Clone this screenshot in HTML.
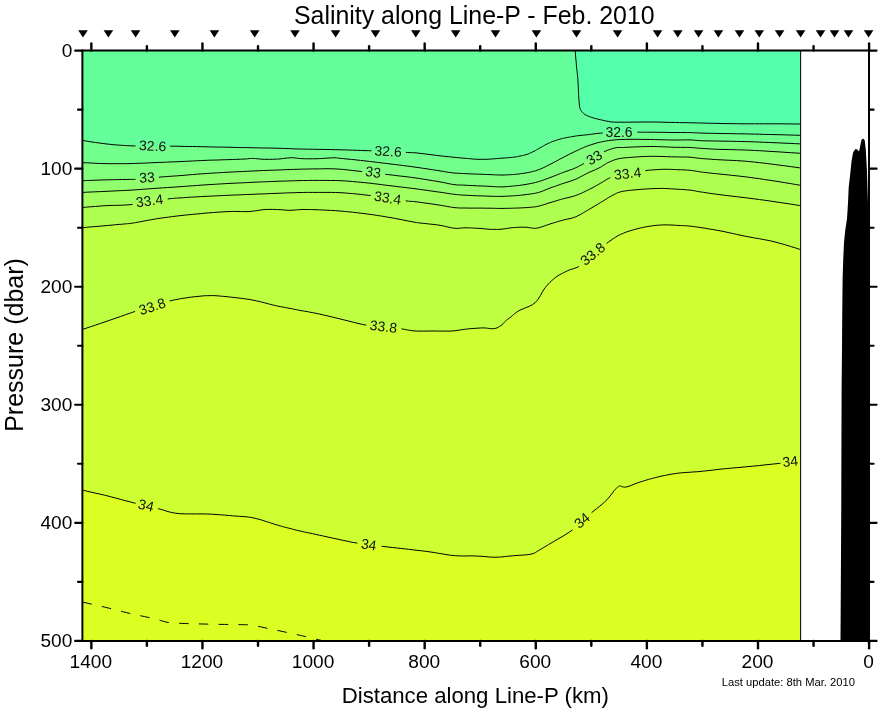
<!DOCTYPE html>
<html lang="en">
<head>
<meta charset="utf-8">
<title>Salinity along Line-P - Feb. 2010</title>
<style>
html,body{margin:0;padding:0;background:#fff;}
body{width:878px;height:708px;overflow:hidden;font-family:"Liberation Sans",sans-serif;}
svg{display:block;will-change:transform;}
</style>
</head>
<body>
<svg width="878" height="708" viewBox="0 0 878 708">
<rect width="878" height="708" fill="#fff"/>
<g shape-rendering="geometricPrecision">
<rect x="82.4" y="50.6" width="718.2" height="590.3" fill="#64ff9b"/>
<path d="M575.2,50.5 L575.3,51.3 L575.4,53.2 L575.6,56.0 L575.9,59.2 L576.2,62.4 L576.4,65.1 L576.6,67.2 L576.8,69.3 L577.1,71.4 L577.3,73.5 L577.5,75.5 L577.7,77.6 L577.9,79.7 L578.0,81.8 L578.1,83.8 L578.2,85.9 L578.3,88.0 L578.4,90.1 L578.5,92.2 L578.6,94.5 L578.7,96.7 L578.9,98.8 L579.0,100.9 L579.2,102.7 L579.3,103.9 L579.4,105.0 L579.5,106.1 L579.7,107.1 L579.9,108.0 L580.2,108.9 L580.5,109.6 L580.9,110.3 L581.2,110.9 L581.7,111.6 L582.2,112.1 L582.7,112.7 L583.4,113.3 L584.1,113.9 L584.9,114.4 L585.7,114.9 L586.7,115.4 L587.7,115.9 L589.4,116.6 L591.4,117.3 L593.6,118.0 L595.9,118.6 L598.1,119.2 L600.3,119.7 L602.4,120.2 L604.5,120.7 L606.5,121.1 L608.6,121.4 L610.7,121.8 L612.8,122.0 L614.8,122.2 L616.8,122.2 L618.8,122.2 L620.8,122.2 L623.0,122.2 L625.3,122.2 L629.0,122.2 L633.0,122.1 L637.3,122.1 L641.7,122.0 L646.1,122.0 L650.4,122.0 L654.6,122.0 L658.7,122.1 L662.9,122.2 L667.1,122.3 L671.2,122.4 L675.4,122.5 L679.6,122.6 L683.9,122.7 L688.1,122.7 L692.4,122.8 L696.5,122.9 L700.5,123.0 L703.9,123.1 L707.1,123.2 L710.2,123.3 L713.4,123.3 L716.6,123.4 L720.0,123.5 L724.0,123.6 L728.1,123.6 L732.3,123.7 L736.6,123.7 L740.9,123.8 L745.2,123.8 L749.9,123.8 L754.7,123.8 L759.6,123.8 L764.4,123.8 L769.2,123.8 L774.0,123.8 L779.1,123.8 L784.9,123.9 L790.7,123.9 L795.7,124.0 L799.3,124.0 L800.6,124.0 L800.6,50.6 Z" fill="#55ffaa"/>
<path d="M82.5,140.4 L83.6,140.6 L86.6,141.1 L90.9,141.8 L95.7,142.5 L100.7,143.2 L105.0,143.8 L109.1,144.2 L113.2,144.7 L117.4,145.0 L121.6,145.3 L125.8,145.6 L130.0,145.8 L134.2,145.9 L138.3,146.0 L142.5,146.0 L146.7,146.0 L150.8,146.0 L155.0,146.0 L159.2,146.0 L163.3,146.1 L167.5,146.1 L171.7,146.2 L175.8,146.2 L180.0,146.3 L184.2,146.4 L188.3,146.5 L192.5,146.5 L196.7,146.6 L200.8,146.7 L205.0,146.8 L209.2,146.9 L213.3,147.0 L217.5,147.1 L221.7,147.1 L225.8,147.2 L230.0,147.3 L234.2,147.4 L238.3,147.5 L242.5,147.6 L246.7,147.6 L250.8,147.7 L255.0,147.8 L259.2,147.9 L263.4,148.0 L267.7,148.0 L271.9,148.1 L276.0,148.2 L280.0,148.3 L283.5,148.4 L286.9,148.5 L290.3,148.7 L293.6,148.8 L296.9,148.9 L300.0,149.0 L302.6,149.1 L305.0,149.1 L307.4,149.2 L309.8,149.2 L312.3,149.2 L315.0,149.3 L318.8,149.4 L322.9,149.4 L327.1,149.5 L331.4,149.6 L335.8,149.7 L340.0,149.8 L344.2,149.9 L348.3,150.0 L352.5,150.2 L356.7,150.3 L360.8,150.5 L365.0,150.6 L369.2,150.7 L373.4,150.9 L377.7,151.0 L381.9,151.2 L386.0,151.3 L390.0,151.5 L393.6,151.7 L397.3,151.9 L401.0,152.1 L404.4,152.3 L407.5,152.5 L410.0,152.6 L411.0,152.6 L411.8,152.7 L412.5,152.7 L413.2,152.7 L414.0,152.7 L415.0,152.8 L418.1,153.1 L421.9,153.6 L426.3,154.1 L431.0,154.7 L435.6,155.3 L440.0,155.8 L444.3,156.3 L448.6,156.7 L453.0,157.2 L457.3,157.6 L461.3,158.0 L465.0,158.3 L467.4,158.5 L469.7,158.7 L471.8,158.9 L473.9,159.1 L475.9,159.2 L478.0,159.3 L480.0,159.3 L482.1,159.3 L484.1,159.3 L486.1,159.3 L488.1,159.2 L490.0,159.1 L491.7,159.0 L493.4,158.9 L495.0,158.7 L496.6,158.6 L498.3,158.4 L500.0,158.3 L502.0,158.1 L504.2,158.0 L506.4,157.8 L508.5,157.7 L510.6,157.5 L512.5,157.3 L513.9,157.1 L515.2,157.0 L516.4,156.8 L517.6,156.6 L518.8,156.3 L520.0,156.1 L521.2,155.8 L522.4,155.6 L523.6,155.3 L524.8,155.0 L525.9,154.7 L527.1,154.3 L528.3,153.9 L529.5,153.4 L530.6,152.9 L531.8,152.3 L532.9,151.8 L534.1,151.2 L535.3,150.6 L536.5,149.9 L537.7,149.2 L538.8,148.6 L540.0,147.9 L541.2,147.2 L542.4,146.5 L543.5,145.9 L544.7,145.2 L545.8,144.6 L547.0,144.0 L548.2,143.4 L549.4,142.9 L550.5,142.4 L551.7,141.9 L552.9,141.4 L554.1,141.0 L555.3,140.6 L556.5,140.2 L557.7,139.8 L558.8,139.5 L560.0,139.1 L561.2,138.8 L562.4,138.5 L563.6,138.2 L564.7,138.0 L565.9,137.7 L567.1,137.5 L568.2,137.3 L569.4,137.1 L570.6,136.9 L571.7,136.7 L572.8,136.5 L574.0,136.3 L575.2,136.1 L576.5,135.9 L578.2,135.7 L580.0,135.5 L581.9,135.3 L583.8,135.1 L585.8,134.9 L587.7,134.7 L589.7,134.5 L591.7,134.2 L593.8,133.9 L595.9,133.6 L598.0,133.4 L600.3,133.2 L603.3,133.0 L606.6,132.9 L609.9,132.7 L613.4,132.7 L616.7,132.6 L620.0,132.5 L623.0,132.4 L626.1,132.4 L629.1,132.3 L632.0,132.3 L634.9,132.2 L637.6,132.2 L639.7,132.2 L641.7,132.2 L643.7,132.2 L645.6,132.2 L647.7,132.2 L650.0,132.2 L653.7,132.2 L657.9,132.3 L662.4,132.3 L666.8,132.4 L671.1,132.5 L675.0,132.5 L677.8,132.5 L680.4,132.5 L682.9,132.5 L685.4,132.5 L687.7,132.6 L690.0,132.6 L691.7,132.7 L693.4,132.7 L694.9,132.8 L696.5,132.9 L698.2,132.9 L700.0,133.0 L702.9,133.1 L706.1,133.2 L709.4,133.3 L712.9,133.3 L716.5,133.4 L720.0,133.5 L724.0,133.6 L728.1,133.6 L732.3,133.7 L736.6,133.8 L740.9,133.8 L745.2,133.9 L749.9,134.0 L754.7,134.1 L759.6,134.2 L764.4,134.4 L769.2,134.5 L774.0,134.6 L779.1,134.7 L784.9,134.9 L790.7,135.0 L795.7,135.2 L799.3,135.3 L800.6,135.3 L800.6,640.9 L82.4,640.9 Z" fill="#73ff8c"/>
<path d="M82.5,162.6 L83.6,162.7 L86.6,162.8 L90.9,163.0 L95.7,163.3 L100.7,163.5 L105.0,163.6 L109.1,163.7 L113.2,163.7 L117.4,163.7 L121.6,163.7 L125.8,163.7 L130.0,163.6 L134.2,163.5 L138.3,163.3 L142.5,163.2 L146.7,163.0 L150.8,162.8 L155.0,162.6 L159.2,162.4 L163.3,162.3 L167.5,162.1 L171.7,161.9 L175.8,161.8 L180.0,161.6 L184.2,161.4 L188.3,161.2 L192.5,161.0 L196.7,160.8 L200.8,160.6 L205.0,160.4 L209.2,160.2 L213.6,160.1 L217.9,160.0 L222.1,159.8 L226.2,159.7 L230.0,159.6 L232.8,159.5 L235.5,159.4 L238.0,159.3 L240.5,159.2 L242.8,159.1 L245.0,159.0 L246.4,158.9 L247.8,158.8 L249.0,158.6 L250.2,158.5 L251.5,158.4 L252.8,158.4 L254.3,158.5 L255.7,158.6 L257.2,158.8 L258.7,158.9 L260.3,159.1 L262.0,159.2 L264.4,159.3 L267.0,159.3 L269.6,159.3 L272.4,159.3 L275.1,159.2 L277.7,159.1 L280.1,158.9 L282.5,158.6 L284.9,158.3 L287.3,158.0 L289.5,157.8 L291.7,157.7 L293.3,157.8 L294.9,157.9 L296.3,158.1 L297.8,158.3 L299.4,158.5 L301.0,158.6 L303.1,158.7 L305.4,158.8 L307.7,158.8 L310.0,158.8 L312.5,158.8 L315.0,158.8 L318.3,158.7 L321.9,158.5 L325.6,158.2 L329.2,158.0 L332.4,157.8 L335.0,157.8 L336.0,157.8 L336.8,157.9 L337.5,158.0 L338.2,158.1 L339.0,158.2 L340.0,158.3 L343.1,158.6 L346.9,159.0 L351.3,159.4 L356.0,159.9 L360.6,160.4 L365.0,160.9 L369.2,161.4 L373.3,161.9 L377.5,162.4 L381.7,162.9 L385.8,163.4 L390.0,163.9 L394.2,164.4 L398.3,164.9 L402.5,165.5 L406.7,166.0 L410.8,166.5 L415.0,167.1 L419.3,167.7 L423.6,168.4 L428.0,169.0 L432.3,169.7 L436.3,170.3 L440.0,170.9 L442.4,171.3 L444.7,171.7 L446.8,172.0 L448.9,172.4 L450.9,172.6 L453.0,172.9 L455.0,173.1 L456.9,173.2 L458.8,173.3 L460.7,173.4 L462.8,173.5 L465.0,173.6 L468.8,173.8 L473.1,174.0 L477.6,174.1 L482.2,174.3 L486.4,174.5 L490.0,174.6 L491.9,174.7 L493.6,174.8 L495.2,174.9 L496.8,174.9 L498.3,175.0 L500.0,175.0 L502.0,175.0 L504.1,175.0 L506.2,174.9 L508.3,174.8 L510.4,174.7 L512.5,174.6 L514.6,174.4 L516.7,174.2 L518.8,174.0 L520.8,173.7 L522.9,173.4 L525.0,173.1 L527.1,172.7 L529.2,172.3 L531.3,171.9 L533.4,171.3 L535.5,170.8 L537.6,170.1 L539.7,169.3 L541.8,168.4 L543.8,167.5 L545.9,166.5 L547.9,165.4 L550.0,164.4 L552.1,163.3 L554.2,162.2 L556.4,161.1 L558.5,159.9 L560.6,158.8 L562.7,157.7 L564.8,156.6 L566.9,155.5 L568.9,154.5 L571.0,153.4 L573.1,152.4 L575.2,151.4 L577.3,150.4 L579.3,149.5 L581.4,148.5 L583.5,147.6 L585.6,146.7 L587.7,145.9 L589.8,145.2 L591.9,144.5 L594.0,143.8 L596.1,143.2 L598.2,142.6 L600.3,142.1 L602.4,141.7 L604.5,141.3 L606.5,140.9 L608.6,140.6 L610.7,140.3 L612.8,140.1 L614.8,139.9 L616.8,139.7 L618.8,139.6 L620.8,139.5 L623.0,139.5 L625.3,139.4 L629.0,139.3 L633.0,139.3 L637.3,139.3 L641.7,139.4 L646.1,139.4 L650.4,139.5 L654.6,139.6 L659.0,139.7 L663.3,139.8 L667.6,139.9 L671.6,140.0 L675.4,140.0 L678.1,140.0 L680.6,140.0 L683.1,139.9 L685.5,139.9 L687.8,139.9 L690.0,139.9 L691.8,140.0 L693.5,140.1 L695.2,140.3 L696.8,140.4 L698.6,140.6 L700.5,140.7 L703.4,140.8 L706.5,140.9 L709.7,140.9 L713.1,141.0 L716.5,141.0 L720.0,141.1 L724.0,141.2 L728.1,141.2 L732.3,141.3 L736.6,141.4 L740.9,141.5 L745.2,141.6 L749.9,141.7 L754.7,141.9 L759.6,142.1 L764.4,142.3 L769.2,142.5 L774.0,142.7 L779.1,142.9 L784.9,143.2 L790.7,143.4 L795.7,143.7 L799.3,143.8 L800.6,143.9 L800.6,640.9 L82.4,640.9 Z" fill="#82ff7d"/>
<path d="M82.5,180.7 L83.6,180.7 L86.6,180.5 L90.9,180.4 L95.7,180.2 L100.7,180.0 L105.0,179.9 L109.2,179.8 L113.7,179.7 L118.2,179.6 L122.5,179.5 L126.5,179.5 L130.0,179.4 L131.7,179.4 L133.2,179.4 L134.5,179.4 L135.9,179.3 L137.3,179.3 L139.0,179.2 L142.0,179.0 L145.4,178.6 L149.0,178.3 L152.7,177.8 L156.4,177.4 L160.0,177.1 L163.3,176.8 L166.6,176.6 L169.9,176.3 L173.2,176.1 L176.5,175.9 L180.0,175.6 L184.0,175.3 L188.1,174.9 L192.3,174.6 L196.6,174.2 L200.8,173.9 L205.0,173.6 L209.2,173.3 L213.3,173.1 L217.5,172.8 L221.7,172.6 L225.8,172.3 L230.0,172.1 L234.2,171.9 L238.3,171.7 L242.5,171.5 L246.7,171.3 L250.8,171.1 L255.0,170.9 L259.2,170.7 L263.4,170.5 L267.7,170.4 L271.9,170.2 L276.0,170.1 L280.0,169.9 L283.5,169.8 L286.9,169.6 L290.3,169.5 L293.6,169.4 L296.9,169.3 L300.0,169.2 L302.6,169.1 L305.1,169.1 L307.5,169.0 L309.9,169.0 L312.4,168.9 L315.0,168.9 L318.2,168.9 L321.4,168.8 L324.7,168.8 L328.1,168.7 L331.6,168.8 L335.0,168.9 L338.7,169.1 L342.4,169.4 L346.2,169.8 L350.1,170.2 L354.0,170.7 L358.0,171.1 L362.8,171.6 L367.8,172.2 L372.9,172.8 L378.0,173.4 L383.0,174.0 L388.0,174.6 L392.6,175.1 L397.1,175.7 L401.7,176.2 L406.1,176.7 L410.6,177.3 L415.0,177.9 L419.3,178.5 L423.6,179.2 L428.0,179.9 L432.2,180.6 L436.2,181.2 L440.0,181.9 L442.8,182.4 L445.4,182.9 L447.9,183.5 L450.4,184.0 L452.7,184.4 L455.0,184.7 L456.7,184.9 L458.3,185.0 L459.8,185.0 L461.4,185.1 L463.1,185.1 L465.0,185.2 L468.6,185.4 L472.9,185.6 L477.5,185.8 L482.1,186.0 L486.4,186.2 L490.0,186.4 L491.9,186.5 L493.6,186.6 L495.2,186.7 L496.8,186.8 L498.3,186.9 L500.0,186.9 L502.0,186.9 L504.1,186.8 L506.2,186.6 L508.3,186.5 L510.4,186.3 L512.5,186.1 L514.6,185.9 L516.7,185.7 L518.8,185.5 L520.8,185.2 L522.9,184.9 L525.0,184.6 L527.1,184.2 L529.2,183.8 L531.3,183.4 L533.4,183.0 L535.5,182.5 L537.6,181.9 L539.7,181.3 L541.8,180.6 L543.8,179.9 L545.9,179.1 L547.9,178.4 L550.0,177.6 L552.1,176.8 L554.2,176.0 L556.3,175.1 L558.5,174.3 L560.6,173.4 L562.7,172.6 L564.8,171.8 L567.0,171.1 L569.1,170.3 L571.2,169.6 L573.3,168.8 L575.2,168.0 L576.8,167.3 L578.3,166.6 L579.7,165.8 L581.1,165.1 L582.5,164.3 L584.0,163.5 L585.6,162.6 L587.3,161.6 L589.0,160.6 L590.6,159.5 L592.3,158.5 L594.0,157.5 L595.7,156.5 L597.3,155.5 L598.9,154.5 L600.6,153.6 L602.3,152.6 L604.0,151.8 L605.8,151.0 L607.7,150.2 L609.6,149.5 L611.5,148.9 L613.4,148.3 L615.3,147.9 L616.9,147.6 L618.5,147.5 L620.0,147.5 L621.6,147.5 L623.4,147.5 L625.3,147.4 L628.8,147.2 L632.8,147.0 L637.1,146.9 L641.6,146.7 L646.1,146.6 L650.4,146.5 L654.6,146.5 L659.0,146.7 L663.3,146.8 L667.6,147.0 L671.6,147.2 L675.4,147.3 L678.1,147.3 L680.6,147.4 L683.1,147.4 L685.5,147.4 L687.8,147.4 L690.0,147.5 L691.8,147.6 L693.5,147.7 L695.2,147.9 L696.8,148.0 L698.6,148.2 L700.5,148.3 L703.4,148.5 L706.5,148.7 L709.7,148.9 L713.1,149.1 L716.5,149.2 L720.0,149.4 L724.0,149.5 L728.1,149.6 L732.3,149.7 L736.6,149.8 L740.9,149.9 L745.2,150.0 L749.9,150.2 L754.7,150.5 L759.6,150.7 L764.4,151.0 L769.2,151.3 L774.0,151.6 L779.1,151.9 L784.9,152.3 L790.7,152.7 L795.7,153.0 L799.3,153.2 L800.6,153.3 L800.6,640.9 L82.4,640.9 Z" fill="#91ff6e"/>
<path d="M82.5,192.4 L83.6,192.4 L86.6,192.2 L90.9,192.0 L95.7,191.8 L100.7,191.6 L105.0,191.4 L109.1,191.2 L113.2,191.0 L117.4,190.8 L121.6,190.6 L125.8,190.4 L130.0,190.2 L134.2,189.9 L138.3,189.6 L142.5,189.3 L146.7,189.0 L150.8,188.7 L155.0,188.4 L159.2,188.1 L163.3,187.8 L167.5,187.5 L171.7,187.3 L175.8,187.0 L180.0,186.7 L184.2,186.4 L188.3,186.1 L192.5,185.8 L196.7,185.5 L200.8,185.2 L205.0,184.9 L209.2,184.6 L213.3,184.4 L217.5,184.1 L221.7,183.9 L225.8,183.6 L230.0,183.4 L234.2,183.2 L238.3,183.0 L242.5,182.8 L246.7,182.6 L250.8,182.4 L255.0,182.2 L259.2,182.0 L263.4,181.8 L267.7,181.7 L271.9,181.5 L276.0,181.3 L280.0,181.2 L283.5,181.1 L286.9,181.0 L290.3,180.9 L293.6,180.8 L296.9,180.7 L300.0,180.6 L302.6,180.5 L305.0,180.5 L307.4,180.5 L309.8,180.4 L312.3,180.4 L315.0,180.4 L318.8,180.4 L322.9,180.4 L327.1,180.4 L331.4,180.5 L335.8,180.5 L340.0,180.7 L344.2,180.9 L348.3,181.2 L352.5,181.5 L356.7,181.9 L360.8,182.3 L365.0,182.7 L369.2,183.1 L373.3,183.6 L377.5,184.1 L381.7,184.7 L385.8,185.2 L390.0,185.7 L394.2,186.2 L398.3,186.7 L402.5,187.2 L406.7,187.7 L410.8,188.2 L415.0,188.7 L419.2,189.3 L423.6,189.9 L427.9,190.5 L432.1,191.1 L436.2,191.7 L440.0,192.2 L442.8,192.6 L445.4,193.0 L447.9,193.4 L450.4,193.8 L452.7,194.1 L455.0,194.4 L456.7,194.6 L458.3,194.7 L459.8,194.9 L461.4,195.0 L463.1,195.1 L465.0,195.2 L468.6,195.4 L472.9,195.6 L477.5,195.8 L482.1,195.9 L486.4,196.1 L490.0,196.2 L491.9,196.3 L493.6,196.3 L495.2,196.4 L496.8,196.4 L498.3,196.4 L500.0,196.4 L502.0,196.4 L504.1,196.3 L506.2,196.2 L508.3,196.1 L510.4,196.0 L512.5,195.9 L514.6,195.7 L516.7,195.6 L518.8,195.4 L520.8,195.2 L522.9,195.0 L525.0,194.7 L527.1,194.4 L529.2,194.2 L531.3,193.9 L533.4,193.6 L535.5,193.2 L537.6,192.7 L539.7,192.1 L541.8,191.4 L543.8,190.6 L545.9,189.7 L547.9,188.9 L550.0,188.1 L552.1,187.3 L554.2,186.6 L556.3,185.8 L558.5,185.1 L560.6,184.3 L562.7,183.6 L564.8,182.9 L566.9,182.3 L569.0,181.6 L571.1,180.9 L573.1,180.2 L575.2,179.4 L577.3,178.5 L579.4,177.4 L581.5,176.3 L583.5,175.2 L585.6,174.1 L587.7,173.1 L589.8,172.1 L592.0,171.1 L594.2,170.2 L596.4,169.2 L598.4,168.3 L600.3,167.3 L601.7,166.5 L602.9,165.7 L604.1,164.9 L605.3,164.2 L606.5,163.4 L607.8,162.7 L609.3,162.0 L610.9,161.3 L612.5,160.6 L614.2,160.0 L616.0,159.4 L617.8,158.9 L620.1,158.4 L622.5,158.1 L625.0,157.8 L627.6,157.6 L630.2,157.4 L632.8,157.2 L635.6,157.0 L638.4,156.8 L641.3,156.6 L644.3,156.5 L647.3,156.4 L650.4,156.3 L654.4,156.3 L658.7,156.4 L663.0,156.5 L667.4,156.7 L671.6,156.8 L675.4,156.9 L678.1,156.9 L680.6,157.0 L683.1,157.0 L685.5,157.0 L687.8,157.1 L690.0,157.2 L691.8,157.4 L693.5,157.5 L695.2,157.8 L696.8,158.0 L698.6,158.2 L700.5,158.4 L703.4,158.7 L706.5,158.9 L709.7,159.1 L713.1,159.4 L716.5,159.6 L720.0,159.8 L724.0,160.0 L728.1,160.2 L732.3,160.4 L736.6,160.6 L740.9,160.9 L745.2,161.2 L749.9,161.6 L754.7,162.1 L759.6,162.7 L764.4,163.2 L769.2,163.8 L774.0,164.4 L779.1,165.1 L784.9,165.8 L790.7,166.6 L795.7,167.3 L799.3,167.8 L800.6,168.0 L800.6,640.9 L82.4,640.9 Z" fill="#a0ff5f"/>
<path d="M82.5,207.5 L83.6,207.4 L86.6,207.1 L90.9,206.8 L95.7,206.4 L100.7,206.0 L105.0,205.7 L109.1,205.5 L113.3,205.4 L117.6,205.3 L121.8,205.2 L126.0,205.0 L130.0,204.7 L133.5,204.3 L136.8,203.8 L140.1,203.2 L143.4,202.6 L146.7,202.0 L150.0,201.5 L153.4,201.0 L156.9,200.5 L160.4,200.0 L163.8,199.5 L167.1,199.0 L170.0,198.7 L171.8,198.5 L173.4,198.4 L174.9,198.2 L176.5,198.1 L178.1,198.0 L180.0,197.9 L183.5,197.7 L187.5,197.4 L191.8,197.1 L196.2,196.9 L200.7,196.6 L205.0,196.4 L209.2,196.2 L213.3,196.0 L217.5,195.8 L221.7,195.6 L225.8,195.4 L230.0,195.2 L234.2,195.0 L238.3,194.9 L242.5,194.7 L246.7,194.5 L250.8,194.4 L255.0,194.2 L259.2,194.0 L263.4,193.9 L267.7,193.7 L271.9,193.5 L276.0,193.4 L280.0,193.2 L283.5,193.1 L286.9,192.9 L290.3,192.8 L293.6,192.7 L296.9,192.6 L300.0,192.5 L302.6,192.5 L305.0,192.4 L307.4,192.4 L309.8,192.4 L312.3,192.4 L315.0,192.4 L318.8,192.4 L322.9,192.4 L327.1,192.4 L331.4,192.4 L335.8,192.5 L340.0,192.7 L344.2,192.9 L348.4,193.3 L352.6,193.6 L356.8,194.0 L360.9,194.5 L365.0,194.9 L368.9,195.4 L372.8,195.9 L376.7,196.4 L380.5,196.9 L384.3,197.5 L388.0,198.0 L391.4,198.5 L394.8,199.1 L398.1,199.6 L401.3,200.2 L404.3,200.6 L407.0,201.0 L408.5,201.2 L409.8,201.3 L410.9,201.4 L412.1,201.4 L413.5,201.5 L415.0,201.7 L418.4,202.1 L422.5,202.7 L427.0,203.3 L431.6,203.9 L436.0,204.6 L440.0,205.2 L442.8,205.7 L445.4,206.1 L447.9,206.6 L450.4,207.0 L452.7,207.4 L455.0,207.7 L456.7,207.8 L458.3,207.9 L459.8,208.0 L461.4,208.0 L463.1,208.0 L465.0,208.0 L468.6,208.1 L472.9,208.1 L477.5,208.1 L482.1,208.1 L486.4,208.2 L490.0,208.2 L491.9,208.2 L493.6,208.3 L495.2,208.3 L496.8,208.4 L498.3,208.4 L500.0,208.4 L502.0,208.4 L504.1,208.4 L506.2,208.3 L508.3,208.3 L510.4,208.3 L512.5,208.2 L514.6,208.1 L516.7,208.1 L518.7,208.0 L520.8,207.9 L522.9,207.8 L525.0,207.7 L527.1,207.6 L529.2,207.4 L531.3,207.2 L533.4,207.0 L535.5,206.8 L537.6,206.4 L539.7,205.9 L541.8,205.3 L543.8,204.7 L545.9,204.0 L547.9,203.3 L550.0,202.7 L552.1,202.1 L554.2,201.4 L556.3,200.8 L558.5,200.1 L560.6,199.5 L562.7,198.9 L564.8,198.4 L566.9,197.9 L569.0,197.4 L571.1,196.9 L573.1,196.3 L575.2,195.7 L577.3,194.9 L579.4,194.1 L581.5,193.2 L583.6,192.2 L585.6,191.2 L587.7,190.2 L589.8,189.1 L592.0,188.0 L594.1,186.9 L596.2,185.7 L598.3,184.5 L600.3,183.4 L602.0,182.4 L603.6,181.4 L605.2,180.4 L606.8,179.4 L608.4,178.5 L610.3,177.6 L612.9,176.6 L615.7,175.6 L618.7,174.8 L621.7,174.0 L624.8,173.2 L627.8,172.6 L630.7,172.1 L633.6,171.7 L636.6,171.4 L639.5,171.1 L642.5,170.9 L645.4,170.6 L648.4,170.3 L651.3,170.0 L654.3,169.8 L657.3,169.6 L660.2,169.4 L662.9,169.3 L665.1,169.3 L667.2,169.3 L669.2,169.3 L671.2,169.4 L673.3,169.5 L675.4,169.6 L677.8,169.7 L680.3,169.8 L682.8,169.8 L685.3,170.0 L687.7,170.1 L690.0,170.3 L691.8,170.5 L693.5,170.8 L695.2,171.0 L696.8,171.3 L698.6,171.6 L700.5,171.9 L703.4,172.3 L706.5,172.6 L709.7,173.0 L713.1,173.4 L716.5,173.7 L720.0,174.1 L724.0,174.5 L728.1,174.9 L732.3,175.4 L736.6,175.8 L740.9,176.3 L745.2,176.8 L749.9,177.4 L754.7,178.1 L759.6,178.7 L764.4,179.5 L769.2,180.2 L774.0,180.9 L779.1,181.7 L784.9,182.7 L790.7,183.6 L795.7,184.5 L799.3,185.1 L800.6,185.3 L800.6,640.9 L82.4,640.9 Z" fill="#afff50"/>
<path d="M82.5,227.7 L83.7,227.6 L86.7,227.3 L91.0,226.9 L95.9,226.5 L100.8,226.1 L105.0,225.7 L108.5,225.4 L112.1,225.1 L115.7,224.7 L119.1,224.4 L122.3,224.2 L125.0,223.9 L126.4,223.8 L127.6,223.7 L128.8,223.6 L129.8,223.5 L130.9,223.3 L132.1,223.2 L133.4,223.0 L134.6,222.8 L135.8,222.6 L137.1,222.3 L138.5,222.1 L140.0,221.8 L142.5,221.3 L145.3,220.8 L148.3,220.2 L151.4,219.7 L154.5,219.1 L157.7,218.6 L161.2,218.1 L164.9,217.6 L168.6,217.1 L172.4,216.6 L176.2,216.1 L180.0,215.7 L184.1,215.2 L188.2,214.8 L192.4,214.4 L196.6,214.0 L200.8,213.6 L205.0,213.2 L209.2,212.8 L213.4,212.5 L217.7,212.2 L221.9,211.9 L226.0,211.7 L230.0,211.5 L233.5,211.4 L236.9,211.5 L240.3,211.6 L243.6,211.6 L246.9,211.6 L250.0,211.5 L252.6,211.2 L255.2,210.9 L257.6,210.5 L260.1,210.1 L262.5,209.7 L265.0,209.5 L267.5,209.4 L270.1,209.4 L272.7,209.4 L275.2,209.5 L277.7,209.6 L280.0,209.7 L281.8,209.8 L283.4,209.9 L285.0,210.1 L286.6,210.2 L288.3,210.3 L290.0,210.3 L292.1,210.2 L294.2,210.1 L296.4,209.9 L298.6,209.7 L300.8,209.6 L303.0,209.5 L305.0,209.5 L306.9,209.5 L308.8,209.5 L310.7,209.6 L312.8,209.6 L315.0,209.7 L318.6,209.8 L322.7,210.0 L326.9,210.2 L331.3,210.4 L335.7,210.7 L340.0,211.0 L344.2,211.4 L348.3,211.8 L352.5,212.2 L356.7,212.7 L360.8,213.2 L365.0,213.7 L369.2,214.3 L373.3,214.8 L377.5,215.5 L381.7,216.1 L385.8,216.8 L390.0,217.5 L394.4,218.3 L399.0,219.2 L403.7,220.1 L408.1,221.0 L411.9,221.7 L415.0,222.3 L416.0,222.5 L416.8,222.6 L417.5,222.7 L418.2,222.8 L419.0,222.9 L420.0,223.0 L422.6,223.3 L425.8,223.6 L429.4,224.0 L433.1,224.4 L436.7,224.8 L440.0,225.3 L442.7,225.8 L445.3,226.4 L447.8,227.0 L450.3,227.6 L452.7,228.0 L455.0,228.3 L456.8,228.4 L458.4,228.3 L460.0,228.2 L461.6,228.0 L463.3,227.9 L465.0,227.8 L467.1,227.8 L469.2,227.9 L471.4,227.9 L473.6,228.1 L475.8,228.2 L478.0,228.3 L480.0,228.4 L482.1,228.6 L484.1,228.8 L486.1,229.0 L488.1,229.2 L490.0,229.3 L491.7,229.4 L493.4,229.4 L495.0,229.4 L496.6,229.4 L498.3,229.4 L500.0,229.3 L502.0,229.1 L504.1,228.9 L506.2,228.5 L508.3,228.2 L510.4,227.9 L512.5,227.7 L514.6,227.5 L516.7,227.4 L518.8,227.3 L520.9,227.2 L523.0,227.2 L525.0,227.2 L526.9,227.3 L528.8,227.6 L530.6,227.9 L532.5,228.1 L534.4,228.3 L536.3,228.2 L538.5,227.8 L540.8,227.2 L543.1,226.4 L545.4,225.6 L547.7,224.8 L550.0,224.0 L552.1,223.3 L554.3,222.7 L556.4,222.1 L558.5,221.4 L560.6,220.8 L562.7,220.2 L564.8,219.7 L566.9,219.2 L569.0,218.8 L571.1,218.3 L573.2,217.7 L575.2,217.0 L577.3,216.1 L579.4,215.0 L581.5,213.9 L583.6,212.6 L585.6,211.4 L587.7,210.2 L589.8,209.0 L591.9,207.7 L594.0,206.5 L596.1,205.2 L598.2,204.0 L600.3,202.7 L602.4,201.4 L604.6,200.1 L606.7,198.7 L608.8,197.4 L610.9,196.2 L612.8,195.2 L614.1,194.5 L615.3,193.9 L616.4,193.3 L617.6,192.8 L618.9,192.3 L620.3,191.9 L622.7,191.3 L625.5,190.9 L628.4,190.5 L631.5,190.2 L634.7,189.9 L637.8,189.6 L641.4,189.3 L645.3,189.0 L649.2,188.8 L653.1,188.6 L656.9,188.5 L660.4,188.4 L663.1,188.4 L665.6,188.5 L668.1,188.6 L670.5,188.8 L672.9,188.9 L675.4,189.1 L677.9,189.2 L680.4,189.4 L682.9,189.5 L685.3,189.7 L687.7,189.9 L690.0,190.1 L691.8,190.3 L693.5,190.6 L695.2,190.9 L696.8,191.3 L698.6,191.6 L700.5,191.9 L703.4,192.3 L706.5,192.8 L709.7,193.3 L713.1,193.8 L716.5,194.2 L720.0,194.7 L724.0,195.2 L728.1,195.7 L732.3,196.2 L736.6,196.7 L740.9,197.2 L745.2,197.7 L749.9,198.3 L754.7,198.9 L759.6,199.6 L764.4,200.2 L769.2,200.9 L774.0,201.6 L779.1,202.4 L784.9,203.2 L790.7,204.1 L795.7,204.9 L799.3,205.5 L800.6,205.7 L800.6,640.9 L82.4,640.9 Z" fill="#beff41"/>
<path d="M82.5,329.5 L83.6,329.1 L86.5,328.1 L90.7,326.7 L95.6,325.1 L100.5,323.4 L105.0,321.9 L109.9,320.2 L115.0,318.4 L120.3,316.6 L125.5,314.7 L130.5,313.0 L135.1,311.4 L138.2,310.3 L141.1,309.3 L143.8,308.3 L146.5,307.3 L149.2,306.4 L152.0,305.5 L154.9,304.6 L157.8,303.8 L160.8,303.0 L163.8,302.3 L166.7,301.6 L169.7,300.9 L172.7,300.3 L175.6,299.6 L178.6,299.1 L181.6,298.5 L184.7,298.1 L187.8,297.6 L191.4,297.1 L195.2,296.7 L199.0,296.3 L202.8,295.9 L206.6,295.7 L210.3,295.6 L213.7,295.6 L217.0,295.8 L220.4,296.1 L223.7,296.4 L227.0,296.7 L230.4,297.1 L234.1,297.5 L237.8,297.9 L241.6,298.4 L245.4,298.9 L249.1,299.4 L252.9,300.1 L256.7,300.9 L260.6,301.8 L264.5,302.8 L268.3,303.8 L272.0,304.8 L275.5,305.6 L278.1,306.2 L280.7,306.7 L283.1,307.1 L285.5,307.6 L287.8,308.0 L290.0,308.4 L291.8,308.7 L293.4,309.1 L295.0,309.4 L296.6,309.7 L298.2,310.1 L300.0,310.4 L302.3,310.8 L304.6,311.2 L307.1,311.6 L309.6,312.1 L312.2,312.6 L315.0,313.1 L318.8,313.9 L322.8,314.8 L327.1,315.8 L331.4,316.8 L335.7,317.9 L340.0,318.9 L344.4,320.0 L348.9,321.1 L353.5,322.3 L358.0,323.4 L362.3,324.4 L366.4,325.2 L369.5,325.7 L372.5,326.0 L375.4,326.3 L378.3,326.5 L381.1,326.7 L384.0,327.0 L387.0,327.3 L389.9,327.6 L392.9,327.9 L395.9,328.2 L398.8,328.6 L401.5,328.9 L403.7,329.2 L405.7,329.6 L407.7,330.0 L409.7,330.3 L411.8,330.7 L414.0,330.9 L416.9,331.1 L420.0,331.1 L423.2,331.1 L426.5,331.1 L429.8,331.0 L433.0,331.0 L436.3,331.0 L439.8,331.1 L443.2,331.1 L446.6,331.1 L449.8,331.1 L452.9,330.9 L455.1,330.7 L457.2,330.4 L459.2,330.1 L461.2,329.8 L463.2,329.5 L465.4,329.2 L468.2,328.9 L471.2,328.6 L474.2,328.4 L477.2,328.2 L480.2,328.0 L483.0,327.9 L485.3,328.0 L487.5,328.2 L489.6,328.5 L491.7,328.7 L493.7,328.7 L495.5,328.4 L497.0,327.9 L498.4,327.2 L499.7,326.4 L501.0,325.5 L502.1,324.7 L503.0,323.9 L503.4,323.5 L503.8,323.1 L504.0,322.7 L504.3,322.3 L504.6,321.9 L505.0,321.5 L505.7,320.9 L506.4,320.3 L507.3,319.6 L508.2,319.0 L509.1,318.3 L510.0,317.6 L511.1,316.7 L512.3,315.7 L513.5,314.6 L514.7,313.6 L516.1,312.5 L517.6,311.5 L520.1,310.1 L523.1,308.8 L526.3,307.5 L529.5,306.2 L532.5,304.6 L535.1,302.7 L537.1,300.5 L538.9,298.0 L540.5,295.4 L542.0,292.6 L543.5,290.0 L545.2,287.7 L546.8,285.8 L548.4,284.0 L550.0,282.3 L551.7,280.7 L553.4,279.2 L555.2,277.7 L557.1,276.3 L559.2,275.0 L561.3,273.9 L563.5,272.7 L565.6,271.7 L567.7,270.7 L569.6,269.9 L571.5,269.3 L573.4,268.7 L575.2,268.1 L577.1,267.4 L579.0,266.4 L581.3,264.8 L583.7,263.0 L586.0,260.9 L588.3,258.7 L590.7,256.5 L593.0,254.5 L595.3,252.6 L597.5,250.7 L599.8,248.8 L602.0,246.9 L604.3,245.1 L606.6,243.4 L608.8,241.8 L611.0,240.2 L613.2,238.7 L615.5,237.2 L617.9,235.8 L620.4,234.5 L623.5,233.2 L626.7,231.9 L630.1,230.8 L633.5,229.8 L637.0,228.8 L640.4,228.0 L643.7,227.3 L647.1,226.6 L650.4,226.1 L653.8,225.6 L657.1,225.3 L660.5,225.0 L663.9,224.9 L667.4,224.9 L671.0,225.0 L674.4,225.2 L677.6,225.4 L680.5,225.5 L682.3,225.6 L683.9,225.7 L685.5,225.7 L686.9,225.8 L688.4,226.0 L690.0,226.1 L691.6,226.3 L693.2,226.5 L694.8,226.7 L696.4,226.9 L698.1,227.2 L700.0,227.5 L702.9,227.9 L706.1,228.4 L709.4,229.0 L712.9,229.5 L716.5,230.2 L720.0,230.8 L724.0,231.6 L728.1,232.5 L732.3,233.4 L736.6,234.4 L740.9,235.3 L745.2,236.2 L749.9,237.1 L754.7,238.0 L759.6,238.8 L764.4,239.7 L769.3,240.6 L774.0,241.7 L779.1,243.1 L784.9,244.7 L790.7,246.5 L795.7,248.0 L799.3,249.2 L800.6,249.6 L800.6,640.9 L82.4,640.9 Z" fill="#cdff32"/>
<path d="M82.5,490.2 L83.6,490.4 L86.6,491.1 L90.9,492.1 L95.9,493.2 L100.9,494.3 L105.4,495.4 L110.2,496.6 L115.4,498.0 L120.7,499.4 L125.8,500.8 L130.6,502.0 L134.7,503.1 L136.9,503.6 L138.8,504.1 L140.6,504.5 L142.4,505.0 L144.1,505.4 L146.0,505.8 L148.0,506.3 L150.0,506.7 L152.0,507.2 L154.0,507.7 L156.1,508.2 L158.3,508.7 L160.9,509.4 L163.6,510.2 L166.3,511.1 L169.2,511.9 L172.2,512.6 L175.4,513.2 L180.2,513.7 L185.4,513.9 L190.9,513.9 L196.5,513.9 L202.0,513.9 L207.2,514.0 L211.6,514.2 L216.0,514.5 L220.3,514.8 L224.5,515.1 L228.6,515.5 L232.6,515.8 L236.1,516.1 L239.5,516.3 L242.8,516.5 L246.1,516.8 L249.4,517.2 L252.9,517.8 L257.1,518.8 L261.6,520.0 L266.1,521.5 L270.5,522.9 L274.7,524.3 L278.4,525.4 L280.6,526.0 L282.6,526.6 L284.5,527.1 L286.4,527.6 L288.2,528.0 L290.0,528.5 L291.7,528.9 L293.3,529.4 L294.9,529.8 L296.5,530.2 L298.2,530.6 L300.0,531.0 L302.3,531.5 L304.7,532.0 L307.2,532.6 L309.9,533.1 L312.6,533.7 L315.4,534.3 L319.3,535.2 L323.6,536.1 L328.1,537.1 L332.6,538.1 L336.9,539.0 L340.9,539.9 L343.9,540.5 L346.8,541.1 L349.5,541.7 L352.2,542.3 L354.9,542.7 L357.4,543.2 L359.4,543.5 L361.4,543.8 L363.3,544.1 L365.2,544.3 L367.1,544.6 L369.0,544.8 L371.0,545.1 L373.0,545.3 L375.0,545.5 L377.1,545.8 L379.3,546.0 L381.6,546.3 L385.0,546.7 L388.7,547.1 L392.5,547.5 L396.5,547.9 L400.4,548.4 L404.4,548.8 L408.6,549.3 L412.8,549.8 L417.1,550.3 L421.4,550.8 L425.6,551.3 L429.9,551.9 L434.2,552.5 L438.5,553.3 L442.8,554.0 L447.0,554.7 L451.2,555.3 L455.3,555.7 L458.8,555.9 L462.3,556.0 L465.6,556.0 L469.0,555.9 L472.3,555.9 L475.7,556.0 L479.1,556.2 L482.6,556.4 L486.1,556.7 L489.5,557.0 L492.8,557.2 L496.0,557.2 L498.4,557.1 L500.7,557.0 L502.9,556.8 L505.2,556.5 L507.5,556.3 L510.0,556.0 L513.7,555.7 L517.9,555.4 L522.3,555.1 L526.5,554.8 L530.2,554.3 L533.1,553.6 L534.2,553.2 L535.0,552.8 L535.7,552.4 L536.4,551.9 L537.2,551.4 L538.1,550.8 L539.9,549.8 L541.8,548.6 L543.9,547.4 L546.2,546.0 L548.5,544.6 L550.9,543.2 L554.3,541.2 L558.0,539.0 L562.0,536.7 L565.8,534.4 L569.4,532.1 L572.5,529.9 L574.4,528.4 L576.0,527.0 L577.5,525.6 L579.0,524.1 L580.5,522.7 L582.0,521.3 L583.6,519.9 L585.1,518.5 L586.6,517.1 L588.2,515.7 L589.9,514.2 L591.6,512.7 L594.0,510.7 L596.6,508.6 L599.3,506.5 L602.0,504.3 L604.5,502.1 L606.8,499.9 L608.5,498.0 L610.1,496.0 L611.7,494.0 L613.1,492.1 L614.4,490.4 L615.7,489.0 L616.4,488.3 L617.0,487.7 L617.6,487.1 L618.2,486.6 L618.8,486.2 L619.5,486.0 L620.3,486.0 L621.0,486.2 L621.8,486.5 L622.7,486.9 L623.6,487.1 L624.6,487.2 L626.7,486.9 L629.1,486.2 L631.7,485.2 L634.4,484.1 L637.2,483.0 L639.9,482.1 L642.8,481.2 L645.7,480.3 L648.6,479.4 L651.6,478.6 L654.6,477.8 L657.7,477.0 L661.0,476.2 L664.3,475.5 L667.7,474.9 L671.1,474.2 L674.5,473.7 L678.0,473.2 L681.6,472.8 L685.3,472.5 L689.0,472.3 L692.7,472.0 L696.4,471.8 L700.0,471.5 L703.4,471.1 L706.7,470.8 L710.1,470.4 L713.4,470.0 L716.7,469.6 L720.0,469.2 L723.2,468.9 L726.4,468.6 L729.5,468.3 L732.8,468.0 L736.2,467.7 L739.9,467.4 L745.9,466.8 L752.6,466.2 L759.7,465.5 L766.9,464.7 L773.6,464.0 L779.7,463.4 L784.1,462.9 L788.7,462.4 L793.2,461.9 L797.0,461.4 L799.6,461.1 L800.6,461.0 L800.6,640.9 L82.4,640.9 Z" fill="#dcff23"/>
</g>
<g fill="none" stroke="#000" stroke-width="1" stroke-linejoin="round" stroke-linecap="butt">
<path d="M575.2,50.5 L575.3,51.3 L575.4,53.2 L575.6,56.0 L575.9,59.2 L576.2,62.4 L576.4,65.1 L576.6,67.2 L576.8,69.3 L577.1,71.4 L577.3,73.5 L577.5,75.5 L577.7,77.6 L577.9,79.7 L578.0,81.8 L578.1,83.8 L578.2,85.9 L578.3,88.0 L578.4,90.1 L578.5,92.2 L578.6,94.5 L578.7,96.7 L578.9,98.8 L579.0,100.9 L579.2,102.7 L579.3,103.9 L579.4,105.0 L579.5,106.1 L579.7,107.1 L579.9,108.0 L580.2,108.9 L580.5,109.6 L580.9,110.3 L581.2,110.9 L581.7,111.6 L582.2,112.1 L582.7,112.7 L583.4,113.3 L584.1,113.9 L584.9,114.4 L585.7,114.9 L586.7,115.4 L587.7,115.9 L589.4,116.6 L591.4,117.3 L593.6,118.0 L595.9,118.6 L598.1,119.2 L600.3,119.7 L602.4,120.2 L604.5,120.7 L606.5,121.1 L608.6,121.4 L610.7,121.8 L612.8,122.0 L614.8,122.2 L616.8,122.2 L618.8,122.2 L620.8,122.2 L623.0,122.2 L625.3,122.2 L629.0,122.2 L633.0,122.1 L637.3,122.1 L641.7,122.0 L646.1,122.0 L650.4,122.0 L654.6,122.0 L658.7,122.1 L662.9,122.2 L667.1,122.3 L671.2,122.4 L675.4,122.5 L679.6,122.6 L683.9,122.7 L688.1,122.7 L692.4,122.8 L696.5,122.9 L700.5,123.0 L703.9,123.1 L707.1,123.2 L710.2,123.3 L713.4,123.3 L716.6,123.4 L720.0,123.5 L724.0,123.6 L728.1,123.6 L732.3,123.7 L736.6,123.7 L740.9,123.8 L745.2,123.8 L749.9,123.8 L754.7,123.8 L759.6,123.8 L764.4,123.8 L769.2,123.8 L774.0,123.8 L779.1,123.8 L784.9,123.9 L790.7,123.9 L795.7,124.0 L799.3,124.0 L800.6,124.0"/>
<path d="M82.5,140.4 L83.6,140.6 L86.6,141.1 L90.9,141.8 L95.7,142.5 L100.7,143.2 L105.0,143.8 L109.1,144.2 L113.2,144.7 L117.4,145.0 L121.6,145.3 L125.8,145.6 L130.0,145.8 L134.2,145.9 L135.6,146.0"/>
<path d="M170.0,146.2 L171.7,146.2 L175.8,146.2 L180.0,146.3 L184.2,146.4 L188.3,146.5 L192.5,146.5 L196.7,146.6 L200.8,146.7 L205.0,146.8 L209.2,146.9 L213.3,147.0 L217.5,147.1 L221.7,147.1 L225.8,147.2 L230.0,147.3 L234.2,147.4 L238.3,147.5 L242.5,147.6 L246.7,147.6 L250.8,147.7 L255.0,147.8 L259.2,147.9 L263.4,148.0 L267.7,148.0 L271.9,148.1 L276.0,148.2 L280.0,148.3 L283.5,148.4 L286.9,148.5 L290.3,148.7 L293.6,148.8 L296.9,148.9 L300.0,149.0 L302.6,149.1 L305.0,149.1 L307.4,149.2 L309.8,149.2 L312.3,149.2 L315.0,149.3 L318.8,149.4 L322.9,149.4 L327.1,149.5 L331.4,149.6 L335.8,149.7 L340.0,149.8 L344.2,149.9 L348.3,150.0 L352.5,150.2 L356.7,150.3 L360.8,150.5 L365.0,150.6 L369.2,150.7 L371.5,150.8"/>
<path d="M405.8,152.4 L407.5,152.5 L410.0,152.6 L411.0,152.6 L411.8,152.7 L412.5,152.7 L413.2,152.7 L414.0,152.7 L415.0,152.8 L418.1,153.1 L421.9,153.6 L426.3,154.1 L431.0,154.7 L435.6,155.3 L440.0,155.8 L444.3,156.3 L448.6,156.7 L453.0,157.2 L457.3,157.6 L461.3,158.0 L465.0,158.3 L467.4,158.5 L469.7,158.7 L471.8,158.9 L473.9,159.1 L475.9,159.2 L478.0,159.3 L480.0,159.3 L482.1,159.3 L484.1,159.3 L486.1,159.3 L488.1,159.2 L490.0,159.1 L491.7,159.0 L493.4,158.9 L495.0,158.7 L496.6,158.6 L498.3,158.4 L500.0,158.3 L502.0,158.1 L504.2,158.0 L506.4,157.8 L508.5,157.7 L510.6,157.5 L512.5,157.3 L513.9,157.1 L515.2,157.0 L516.4,156.8 L517.6,156.6 L518.8,156.3 L520.0,156.1 L521.2,155.8 L522.4,155.6 L523.6,155.3 L524.8,155.0 L525.9,154.7 L527.1,154.3 L528.3,153.9 L529.5,153.4 L530.6,152.9 L531.8,152.3 L532.9,151.8 L534.1,151.2 L535.3,150.6 L536.5,149.9 L537.7,149.2 L538.8,148.6 L540.0,147.9 L541.2,147.2 L542.4,146.5 L543.5,145.9 L544.7,145.2 L545.8,144.6 L547.0,144.0 L548.2,143.4 L549.4,142.9 L550.5,142.4 L551.7,141.9 L552.9,141.4 L554.1,141.0 L555.3,140.6 L556.5,140.2 L557.7,139.8 L558.8,139.5 L560.0,139.1 L561.2,138.8 L562.4,138.5 L563.6,138.2 L564.7,138.0 L565.9,137.7 L567.1,137.5 L568.2,137.3 L569.4,137.1 L570.6,136.9 L571.7,136.7 L572.8,136.5 L574.0,136.3 L575.2,136.1 L576.5,135.9 L578.2,135.7 L580.0,135.5 L581.9,135.3 L583.8,135.1 L585.8,134.9 L587.7,134.7 L589.7,134.5 L591.7,134.2 L593.8,133.9 L595.9,133.6 L598.0,133.4 L600.3,133.2 L602.8,133.0"/>
<path d="M637.3,132.2 L637.6,132.2 L639.7,132.2 L641.7,132.2 L643.7,132.2 L645.6,132.2 L647.7,132.2 L650.0,132.2 L653.7,132.2 L657.9,132.3 L662.4,132.3 L666.8,132.4 L671.1,132.5 L675.0,132.5 L677.8,132.5 L680.4,132.5 L682.9,132.5 L685.4,132.5 L687.7,132.6 L690.0,132.6 L691.7,132.7 L693.4,132.7 L694.9,132.8 L696.5,132.9 L698.2,132.9 L700.0,133.0 L702.9,133.1 L706.1,133.2 L709.4,133.3 L712.9,133.3 L716.5,133.4 L720.0,133.5 L724.0,133.6 L728.1,133.6 L732.3,133.7 L736.6,133.8 L740.9,133.8 L745.2,133.9 L749.9,134.0 L754.7,134.1 L759.6,134.2 L764.4,134.4 L769.2,134.5 L774.0,134.6 L779.1,134.7 L784.9,134.9 L790.7,135.0 L795.7,135.2 L799.3,135.3 L800.6,135.3"/>
<path d="M82.5,162.6 L83.6,162.7 L86.6,162.8 L90.9,163.0 L95.7,163.3 L100.7,163.5 L105.0,163.6 L109.1,163.7 L113.2,163.7 L117.4,163.7 L121.6,163.7 L125.8,163.7 L130.0,163.6 L134.2,163.5 L138.3,163.3 L142.5,163.2 L146.7,163.0 L150.8,162.8 L155.0,162.6 L159.2,162.4 L163.3,162.3 L167.5,162.1 L171.7,161.9 L175.8,161.8 L180.0,161.6 L184.2,161.4 L188.3,161.2 L192.5,161.0 L196.7,160.8 L200.8,160.6 L205.0,160.4 L209.2,160.2 L213.6,160.1 L217.9,160.0 L222.1,159.8 L226.2,159.7 L230.0,159.6 L232.8,159.5 L235.5,159.4 L238.0,159.3 L240.5,159.2 L242.8,159.1 L245.0,159.0 L246.4,158.9 L247.8,158.8 L249.0,158.6 L250.2,158.5 L251.5,158.4 L252.8,158.4 L254.3,158.5 L255.7,158.6 L257.2,158.8 L258.7,158.9 L260.3,159.1 L262.0,159.2 L264.4,159.3 L267.0,159.3 L269.6,159.3 L272.4,159.3 L275.1,159.2 L277.7,159.1 L280.1,158.9 L282.5,158.6 L284.9,158.3 L287.3,158.0 L289.5,157.8 L291.7,157.7 L293.3,157.8 L294.9,157.9 L296.3,158.1 L297.8,158.3 L299.4,158.5 L301.0,158.6 L303.1,158.7 L305.4,158.8 L307.7,158.8 L310.0,158.8 L312.5,158.8 L315.0,158.8 L318.3,158.7 L321.9,158.5 L325.6,158.2 L329.2,158.0 L332.4,157.8 L335.0,157.8 L336.0,157.8 L336.8,157.9 L337.5,158.0 L338.2,158.1 L339.0,158.2 L340.0,158.3 L343.1,158.6 L346.9,159.0 L351.3,159.4 L356.0,159.9 L360.6,160.4 L365.0,160.9 L369.2,161.4 L373.3,161.9 L377.5,162.4 L381.7,162.9 L385.8,163.4 L390.0,163.9 L394.2,164.4 L398.3,164.9 L402.5,165.5 L406.7,166.0 L410.8,166.5 L415.0,167.1 L419.3,167.7 L423.6,168.4 L428.0,169.0 L432.3,169.7 L436.3,170.3 L440.0,170.9 L442.4,171.3 L444.7,171.7 L446.8,172.0 L448.9,172.4 L450.9,172.6 L453.0,172.9 L455.0,173.1 L456.9,173.2 L458.8,173.3 L460.7,173.4 L462.8,173.5 L465.0,173.6 L468.8,173.8 L473.1,174.0 L477.6,174.1 L482.2,174.3 L486.4,174.5 L490.0,174.6 L491.9,174.7 L493.6,174.8 L495.2,174.9 L496.8,174.9 L498.3,175.0 L500.0,175.0 L502.0,175.0 L504.1,175.0 L506.2,174.9 L508.3,174.8 L510.4,174.7 L512.5,174.6 L514.6,174.4 L516.7,174.2 L518.8,174.0 L520.8,173.7 L522.9,173.4 L525.0,173.1 L527.1,172.7 L529.2,172.3 L531.3,171.9 L533.4,171.3 L535.5,170.8 L537.6,170.1 L539.7,169.3 L541.8,168.4 L543.8,167.5 L545.9,166.5 L547.9,165.4 L550.0,164.4 L552.1,163.3 L554.2,162.2 L556.4,161.1 L558.5,159.9 L560.6,158.8 L562.7,157.7 L564.8,156.6 L566.9,155.5 L568.9,154.5 L571.0,153.4 L573.1,152.4 L575.2,151.4 L577.3,150.4 L579.3,149.5 L581.4,148.5 L583.5,147.6 L585.6,146.7 L587.7,145.9 L589.8,145.2 L591.9,144.5 L594.0,143.8 L596.1,143.2 L598.2,142.6 L600.3,142.1 L602.4,141.7 L604.5,141.3 L606.5,140.9 L608.6,140.6 L610.7,140.3 L612.8,140.1 L614.8,139.9 L616.8,139.7 L618.8,139.6 L620.8,139.5 L623.0,139.5 L625.3,139.4 L629.0,139.3 L633.0,139.3 L637.3,139.3 L641.7,139.4 L646.1,139.4 L650.4,139.5 L654.6,139.6 L659.0,139.7 L663.3,139.8 L667.6,139.9 L671.6,140.0 L675.4,140.0 L678.1,140.0 L680.6,140.0 L683.1,139.9 L685.5,139.9 L687.8,139.9 L690.0,139.9 L691.8,140.0 L693.5,140.1 L695.2,140.3 L696.8,140.4 L698.6,140.6 L700.5,140.7 L703.4,140.8 L706.5,140.9 L709.7,140.9 L713.1,141.0 L716.5,141.0 L720.0,141.1 L724.0,141.2 L728.1,141.2 L732.3,141.3 L736.6,141.4 L740.9,141.5 L745.2,141.6 L749.9,141.7 L754.7,141.9 L759.6,142.1 L764.4,142.3 L769.2,142.5 L774.0,142.7 L779.1,142.9 L784.9,143.2 L790.7,143.4 L795.7,143.7 L799.3,143.8 L800.6,143.9"/>
<path d="M82.5,180.7 L83.6,180.7 L86.6,180.5 L90.9,180.4 L95.7,180.2 L100.7,180.0 L105.0,179.9 L109.2,179.8 L113.7,179.7 L118.2,179.6 L122.5,179.5 L126.5,179.5 L130.0,179.4 L131.7,179.4 L133.2,179.4 L134.5,179.4 L135.6,179.3"/>
<path d="M158.9,177.2 L160.0,177.1 L163.3,176.8 L166.6,176.6 L169.9,176.3 L173.2,176.1 L176.5,175.9 L180.0,175.6 L184.0,175.3 L188.1,174.9 L192.3,174.6 L196.6,174.2 L200.8,173.9 L205.0,173.6 L209.2,173.3 L213.3,173.1 L217.5,172.8 L221.7,172.6 L225.8,172.3 L230.0,172.1 L234.2,171.9 L238.3,171.7 L242.5,171.5 L246.7,171.3 L250.8,171.1 L255.0,170.9 L259.2,170.7 L263.4,170.5 L267.7,170.4 L271.9,170.2 L276.0,170.1 L280.0,169.9 L283.5,169.8 L286.9,169.6 L290.3,169.5 L293.6,169.4 L296.9,169.3 L300.0,169.2 L302.6,169.1 L305.1,169.1 L307.5,169.0 L309.9,169.0 L312.4,168.9 L315.0,168.9 L318.2,168.9 L321.4,168.8 L324.7,168.8 L328.1,168.7 L331.6,168.8 L335.0,168.9 L338.7,169.1 L342.4,169.4 L346.2,169.8 L350.1,170.2 L354.0,170.7 L358.0,171.1 L362.2,171.6"/>
<path d="M385.2,174.3 L388.0,174.6 L392.6,175.1 L397.1,175.7 L401.7,176.2 L406.1,176.7 L410.6,177.3 L415.0,177.9 L419.3,178.5 L423.6,179.2 L428.0,179.9 L432.2,180.6 L436.2,181.2 L440.0,181.9 L442.8,182.4 L445.4,182.9 L447.9,183.5 L450.4,184.0 L452.7,184.4 L455.0,184.7 L456.7,184.9 L458.3,185.0 L459.8,185.0 L461.4,185.1 L463.1,185.1 L465.0,185.2 L468.6,185.4 L472.9,185.6 L477.5,185.8 L482.1,186.0 L486.4,186.2 L490.0,186.4 L491.9,186.5 L493.6,186.6 L495.2,186.7 L496.8,186.8 L498.3,186.9 L500.0,186.9 L502.0,186.9 L504.1,186.8 L506.2,186.6 L508.3,186.5 L510.4,186.3 L512.5,186.1 L514.6,185.9 L516.7,185.7 L518.8,185.5 L520.8,185.2 L522.9,184.9 L525.0,184.6 L527.1,184.2 L529.2,183.8 L531.3,183.4 L533.4,183.0 L535.5,182.5 L537.6,181.9 L539.7,181.3 L541.8,180.6 L543.8,179.9 L545.9,179.1 L547.9,178.4 L550.0,177.6 L552.1,176.8 L554.2,176.0 L556.3,175.1 L558.5,174.3 L560.6,173.4 L562.7,172.6 L564.8,171.8 L567.0,171.1 L569.1,170.3 L571.2,169.6 L573.3,168.8 L575.2,168.0 L576.8,167.3 L578.3,166.6 L579.7,165.8 L581.1,165.1 L582.5,164.3 L584.0,163.5 L584.0,163.5"/>
<path d="M604.0,151.8 L604.0,151.8 L605.8,151.0 L607.7,150.2 L609.6,149.5 L611.5,148.9 L613.4,148.3 L615.3,147.9 L616.9,147.6 L618.5,147.5 L620.0,147.5 L621.6,147.5 L623.4,147.5 L625.3,147.4 L628.8,147.2 L632.8,147.0 L637.1,146.9 L641.6,146.7 L646.1,146.6 L650.4,146.5 L654.6,146.5 L659.0,146.7 L663.3,146.8 L667.6,147.0 L671.6,147.2 L675.4,147.3 L678.1,147.3 L680.6,147.4 L683.1,147.4 L685.5,147.4 L687.8,147.4 L690.0,147.5 L691.8,147.6 L693.5,147.7 L695.2,147.9 L696.8,148.0 L698.6,148.2 L700.5,148.3 L703.4,148.5 L706.5,148.7 L709.7,148.9 L713.1,149.1 L716.5,149.2 L720.0,149.4 L724.0,149.5 L728.1,149.6 L732.3,149.7 L736.6,149.8 L740.9,149.9 L745.2,150.0 L749.9,150.2 L754.7,150.5 L759.6,150.7 L764.4,151.0 L769.2,151.3 L774.0,151.6 L779.1,151.9 L784.9,152.3 L790.7,152.7 L795.7,153.0 L799.3,153.2 L800.6,153.3"/>
<path d="M82.5,192.4 L83.6,192.4 L86.6,192.2 L90.9,192.0 L95.7,191.8 L100.7,191.6 L105.0,191.4 L109.1,191.2 L113.2,191.0 L117.4,190.8 L121.6,190.6 L125.8,190.4 L130.0,190.2 L134.2,189.9 L138.3,189.6 L142.5,189.3 L146.7,189.0 L150.8,188.7 L155.0,188.4 L159.2,188.1 L163.3,187.8 L167.5,187.5 L171.7,187.3 L175.8,187.0 L180.0,186.7 L184.2,186.4 L188.3,186.1 L192.5,185.8 L196.7,185.5 L200.8,185.2 L205.0,184.9 L209.2,184.6 L213.3,184.4 L217.5,184.1 L221.7,183.9 L225.8,183.6 L230.0,183.4 L234.2,183.2 L238.3,183.0 L242.5,182.8 L246.7,182.6 L250.8,182.4 L255.0,182.2 L259.2,182.0 L263.4,181.8 L267.7,181.7 L271.9,181.5 L276.0,181.3 L280.0,181.2 L283.5,181.1 L286.9,181.0 L290.3,180.9 L293.6,180.8 L296.9,180.7 L300.0,180.6 L302.6,180.5 L305.0,180.5 L307.4,180.5 L309.8,180.4 L312.3,180.4 L315.0,180.4 L318.8,180.4 L322.9,180.4 L327.1,180.4 L331.4,180.5 L335.8,180.5 L340.0,180.7 L344.2,180.9 L348.3,181.2 L352.5,181.5 L356.7,181.9 L360.8,182.3 L365.0,182.7 L369.2,183.1 L373.3,183.6 L377.5,184.1 L381.7,184.7 L385.8,185.2 L390.0,185.7 L394.2,186.2 L398.3,186.7 L402.5,187.2 L406.7,187.7 L410.8,188.2 L415.0,188.7 L419.2,189.3 L423.6,189.9 L427.9,190.5 L432.1,191.1 L436.2,191.7 L440.0,192.2 L442.8,192.6 L445.4,193.0 L447.9,193.4 L450.4,193.8 L452.7,194.1 L455.0,194.4 L456.7,194.6 L458.3,194.7 L459.8,194.9 L461.4,195.0 L463.1,195.1 L465.0,195.2 L468.6,195.4 L472.9,195.6 L477.5,195.8 L482.1,195.9 L486.4,196.1 L490.0,196.2 L491.9,196.3 L493.6,196.3 L495.2,196.4 L496.8,196.4 L498.3,196.4 L500.0,196.4 L502.0,196.4 L504.1,196.3 L506.2,196.2 L508.3,196.1 L510.4,196.0 L512.5,195.9 L514.6,195.7 L516.7,195.6 L518.8,195.4 L520.8,195.2 L522.9,195.0 L525.0,194.7 L527.1,194.4 L529.2,194.2 L531.3,193.9 L533.4,193.6 L535.5,193.2 L537.6,192.7 L539.7,192.1 L541.8,191.4 L543.8,190.6 L545.9,189.7 L547.9,188.9 L550.0,188.1 L552.1,187.3 L554.2,186.6 L556.3,185.8 L558.5,185.1 L560.6,184.3 L562.7,183.6 L564.8,182.9 L566.9,182.3 L569.0,181.6 L571.1,180.9 L573.1,180.2 L575.2,179.4 L577.3,178.5 L579.4,177.4 L581.5,176.3 L583.5,175.2 L585.6,174.1 L587.7,173.1 L589.8,172.1 L592.0,171.1 L594.2,170.2 L596.4,169.2 L598.4,168.3 L600.3,167.3 L601.7,166.5 L602.9,165.7 L604.1,164.9 L605.3,164.2 L606.5,163.4 L607.8,162.7 L609.3,162.0 L610.9,161.3 L612.5,160.6 L614.2,160.0 L616.0,159.4 L617.8,158.9 L620.1,158.4 L622.5,158.1 L625.0,157.8 L627.6,157.6 L630.2,157.4 L632.8,157.2 L635.6,157.0 L638.4,156.8 L641.3,156.6 L644.3,156.5 L647.3,156.4 L650.4,156.3 L654.4,156.3 L658.7,156.4 L663.0,156.5 L667.4,156.7 L671.6,156.8 L675.4,156.9 L678.1,156.9 L680.6,157.0 L683.1,157.0 L685.5,157.0 L687.8,157.1 L690.0,157.2 L691.8,157.4 L693.5,157.5 L695.2,157.8 L696.8,158.0 L698.6,158.2 L700.5,158.4 L703.4,158.7 L706.5,158.9 L709.7,159.1 L713.1,159.4 L716.5,159.6 L720.0,159.8 L724.0,160.0 L728.1,160.2 L732.3,160.4 L736.6,160.6 L740.9,160.9 L745.2,161.2 L749.9,161.6 L754.7,162.1 L759.6,162.7 L764.4,163.2 L769.2,163.8 L774.0,164.4 L779.1,165.1 L784.9,165.8 L790.7,166.6 L795.7,167.3 L799.3,167.8 L800.6,168.0"/>
<path d="M82.5,207.5 L83.6,207.4 L86.6,207.1 L90.9,206.8 L95.7,206.4 L100.7,206.0 L105.0,205.7 L109.1,205.5 L113.3,205.4 L117.6,205.3 L121.8,205.2 L126.0,205.0 L130.0,204.7 L132.6,204.4"/>
<path d="M167.7,199.0 L170.0,198.7 L171.8,198.5 L173.4,198.4 L174.9,198.2 L176.5,198.1 L178.1,198.0 L180.0,197.9 L183.5,197.7 L187.5,197.4 L191.8,197.1 L196.2,196.9 L200.7,196.6 L205.0,196.4 L209.2,196.2 L213.3,196.0 L217.5,195.8 L221.7,195.6 L225.8,195.4 L230.0,195.2 L234.2,195.0 L238.3,194.9 L242.5,194.7 L246.7,194.5 L250.8,194.4 L255.0,194.2 L259.2,194.0 L263.4,193.9 L267.7,193.7 L271.9,193.5 L276.0,193.4 L280.0,193.2 L283.5,193.1 L286.9,192.9 L290.3,192.8 L293.6,192.7 L296.9,192.6 L300.0,192.5 L302.6,192.5 L305.0,192.4 L307.4,192.4 L309.8,192.4 L312.3,192.4 L315.0,192.4 L318.8,192.4 L322.9,192.4 L327.1,192.4 L331.4,192.4 L335.8,192.5 L340.0,192.7 L344.2,192.9 L348.4,193.3 L352.6,193.6 L356.8,194.0 L360.9,194.5 L365.0,194.9 L368.9,195.4 L370.7,195.6"/>
<path d="M405.8,200.8 L407.0,201.0 L408.5,201.2 L409.8,201.3 L410.9,201.4 L412.1,201.4 L413.5,201.5 L415.0,201.7 L418.4,202.1 L422.5,202.7 L427.0,203.3 L431.6,203.9 L436.0,204.6 L440.0,205.2 L442.8,205.7 L445.4,206.1 L447.9,206.6 L450.4,207.0 L452.7,207.4 L455.0,207.7 L456.7,207.8 L458.3,207.9 L459.8,208.0 L461.4,208.0 L463.1,208.0 L465.0,208.0 L468.6,208.1 L472.9,208.1 L477.5,208.1 L482.1,208.1 L486.4,208.2 L490.0,208.2 L491.9,208.2 L493.6,208.3 L495.2,208.3 L496.8,208.4 L498.3,208.4 L500.0,208.4 L502.0,208.4 L504.1,208.4 L506.2,208.3 L508.3,208.3 L510.4,208.3 L512.5,208.2 L514.6,208.1 L516.7,208.1 L518.7,208.0 L520.8,207.9 L522.9,207.8 L525.0,207.7 L527.1,207.6 L529.2,207.4 L531.3,207.2 L533.4,207.0 L535.5,206.8 L537.6,206.4 L539.7,205.9 L541.8,205.3 L543.8,204.7 L545.9,204.0 L547.9,203.3 L550.0,202.7 L552.1,202.1 L554.2,201.4 L556.3,200.8 L558.5,200.1 L560.6,199.5 L562.7,198.9 L564.8,198.4 L566.9,197.9 L569.0,197.4 L571.1,196.9 L573.1,196.3 L575.2,195.7 L577.3,194.9 L579.4,194.1 L581.5,193.2 L583.6,192.2 L585.6,191.2 L587.7,190.2 L589.8,189.1 L592.0,188.0 L594.1,186.9 L596.2,185.7 L598.3,184.5 L600.3,183.4 L602.0,182.4 L603.6,181.4 L605.2,180.4 L606.8,179.4 L608.4,178.5 L610.3,177.6 L610.3,177.6"/>
<path d="M645.4,170.6 L645.4,170.6 L648.4,170.3 L651.3,170.0 L654.3,169.8 L657.3,169.6 L660.2,169.4 L662.9,169.3 L665.1,169.3 L667.2,169.3 L669.2,169.3 L671.2,169.4 L673.3,169.5 L675.4,169.6 L677.8,169.7 L680.3,169.8 L682.8,169.8 L685.3,170.0 L687.7,170.1 L690.0,170.3 L691.8,170.5 L693.5,170.8 L695.2,171.0 L696.8,171.3 L698.6,171.6 L700.5,171.9 L703.4,172.3 L706.5,172.6 L709.7,173.0 L713.1,173.4 L716.5,173.7 L720.0,174.1 L724.0,174.5 L728.1,174.9 L732.3,175.4 L736.6,175.8 L740.9,176.3 L745.2,176.8 L749.9,177.4 L754.7,178.1 L759.6,178.7 L764.4,179.5 L769.2,180.2 L774.0,180.9 L779.1,181.7 L784.9,182.7 L790.7,183.6 L795.7,184.5 L799.3,185.1 L800.6,185.3"/>
<path d="M82.5,227.7 L83.7,227.6 L86.7,227.3 L91.0,226.9 L95.9,226.5 L100.8,226.1 L105.0,225.7 L108.5,225.4 L112.1,225.1 L115.7,224.7 L119.1,224.4 L122.3,224.2 L125.0,223.9 L126.4,223.8 L127.6,223.7 L128.8,223.6 L129.8,223.5 L130.9,223.3 L132.1,223.2 L133.4,223.0 L134.6,222.8 L135.8,222.6 L137.1,222.3 L138.5,222.1 L140.0,221.8 L142.5,221.3 L145.3,220.8 L148.3,220.2 L151.4,219.7 L154.5,219.1 L157.7,218.6 L161.2,218.1 L164.9,217.6 L168.6,217.1 L172.4,216.6 L176.2,216.1 L180.0,215.7 L184.1,215.2 L188.2,214.8 L192.4,214.4 L196.6,214.0 L200.8,213.6 L205.0,213.2 L209.2,212.8 L213.4,212.5 L217.7,212.2 L221.9,211.9 L226.0,211.7 L230.0,211.5 L233.5,211.4 L236.9,211.5 L240.3,211.6 L243.6,211.6 L246.9,211.6 L250.0,211.5 L252.6,211.2 L255.2,210.9 L257.6,210.5 L260.1,210.1 L262.5,209.7 L265.0,209.5 L267.5,209.4 L270.1,209.4 L272.7,209.4 L275.2,209.5 L277.7,209.6 L280.0,209.7 L281.8,209.8 L283.4,209.9 L285.0,210.1 L286.6,210.2 L288.3,210.3 L290.0,210.3 L292.1,210.2 L294.2,210.1 L296.4,209.9 L298.6,209.7 L300.8,209.6 L303.0,209.5 L305.0,209.5 L306.9,209.5 L308.8,209.5 L310.7,209.6 L312.8,209.6 L315.0,209.7 L318.6,209.8 L322.7,210.0 L326.9,210.2 L331.3,210.4 L335.7,210.7 L340.0,211.0 L344.2,211.4 L348.3,211.8 L352.5,212.2 L356.7,212.7 L360.8,213.2 L365.0,213.7 L369.2,214.3 L373.3,214.8 L377.5,215.5 L381.7,216.1 L385.8,216.8 L390.0,217.5 L394.4,218.3 L399.0,219.2 L403.7,220.1 L408.1,221.0 L411.9,221.7 L415.0,222.3 L416.0,222.5 L416.8,222.6 L417.5,222.7 L418.2,222.8 L419.0,222.9 L420.0,223.0 L422.6,223.3 L425.8,223.6 L429.4,224.0 L433.1,224.4 L436.7,224.8 L440.0,225.3 L442.7,225.8 L445.3,226.4 L447.8,227.0 L450.3,227.6 L452.7,228.0 L455.0,228.3 L456.8,228.4 L458.4,228.3 L460.0,228.2 L461.6,228.0 L463.3,227.9 L465.0,227.8 L467.1,227.8 L469.2,227.9 L471.4,227.9 L473.6,228.1 L475.8,228.2 L478.0,228.3 L480.0,228.4 L482.1,228.6 L484.1,228.8 L486.1,229.0 L488.1,229.2 L490.0,229.3 L491.7,229.4 L493.4,229.4 L495.0,229.4 L496.6,229.4 L498.3,229.4 L500.0,229.3 L502.0,229.1 L504.1,228.9 L506.2,228.5 L508.3,228.2 L510.4,227.9 L512.5,227.7 L514.6,227.5 L516.7,227.4 L518.8,227.3 L520.9,227.2 L523.0,227.2 L525.0,227.2 L526.9,227.3 L528.8,227.6 L530.6,227.9 L532.5,228.1 L534.4,228.3 L536.3,228.2 L538.5,227.8 L540.8,227.2 L543.1,226.4 L545.4,225.6 L547.7,224.8 L550.0,224.0 L552.1,223.3 L554.3,222.7 L556.4,222.1 L558.5,221.4 L560.6,220.8 L562.7,220.2 L564.8,219.7 L566.9,219.2 L569.0,218.8 L571.1,218.3 L573.2,217.7 L575.2,217.0 L577.3,216.1 L579.4,215.0 L581.5,213.9 L583.6,212.6 L585.6,211.4 L587.7,210.2 L589.8,209.0 L591.9,207.7 L594.0,206.5 L596.1,205.2 L598.2,204.0 L600.3,202.7 L602.4,201.4 L604.6,200.1 L606.7,198.7 L608.8,197.4 L610.9,196.2 L612.8,195.2 L614.1,194.5 L615.3,193.9 L616.4,193.3 L617.6,192.8 L618.9,192.3 L620.3,191.9 L622.7,191.3 L625.5,190.9 L628.4,190.5 L631.5,190.2 L634.7,189.9 L637.8,189.6 L641.4,189.3 L645.3,189.0 L649.2,188.8 L653.1,188.6 L656.9,188.5 L660.4,188.4 L663.1,188.4 L665.6,188.5 L668.1,188.6 L670.5,188.8 L672.9,188.9 L675.4,189.1 L677.9,189.2 L680.4,189.4 L682.9,189.5 L685.3,189.7 L687.7,189.9 L690.0,190.1 L691.8,190.3 L693.5,190.6 L695.2,190.9 L696.8,191.3 L698.6,191.6 L700.5,191.9 L703.4,192.3 L706.5,192.8 L709.7,193.3 L713.1,193.8 L716.5,194.2 L720.0,194.7 L724.0,195.2 L728.1,195.7 L732.3,196.2 L736.6,196.7 L740.9,197.2 L745.2,197.7 L749.9,198.3 L754.7,198.9 L759.6,199.6 L764.4,200.2 L769.2,200.9 L774.0,201.6 L779.1,202.4 L784.9,203.2 L790.7,204.1 L795.7,204.9 L799.3,205.5 L800.6,205.7"/>
<path d="M82.5,329.5 L83.6,329.1 L86.5,328.1 L90.7,326.7 L95.6,325.1 L100.5,323.4 L105.0,321.9 L109.9,320.2 L115.0,318.4 L120.3,316.6 L125.5,314.7 L130.5,313.0 L135.1,311.4 L135.1,311.4"/>
<path d="M169.7,300.9 L169.7,300.9 L172.7,300.3 L175.6,299.6 L178.6,299.1 L181.6,298.5 L184.7,298.1 L187.8,297.6 L191.4,297.1 L195.2,296.7 L199.0,296.3 L202.8,295.9 L206.6,295.7 L210.3,295.6 L213.7,295.6 L217.0,295.8 L220.4,296.1 L223.7,296.4 L227.0,296.7 L230.4,297.1 L234.1,297.5 L237.8,297.9 L241.6,298.4 L245.4,298.9 L249.1,299.4 L252.9,300.1 L256.7,300.9 L260.6,301.8 L264.5,302.8 L268.3,303.8 L272.0,304.8 L275.5,305.6 L278.1,306.2 L280.7,306.7 L283.1,307.1 L285.5,307.6 L287.8,308.0 L290.0,308.4 L291.8,308.7 L293.4,309.1 L295.0,309.4 L296.6,309.7 L298.2,310.1 L300.0,310.4 L302.3,310.8 L304.6,311.2 L307.1,311.6 L309.6,312.1 L312.2,312.6 L315.0,313.1 L318.8,313.9 L322.8,314.8 L327.1,315.8 L331.4,316.8 L335.7,317.9 L340.0,318.9 L344.4,320.0 L348.9,321.1 L353.5,322.3 L358.0,323.4 L362.3,324.4 L366.4,325.2 L366.4,325.2"/>
<path d="M401.5,328.9 L401.5,328.9 L403.7,329.2 L405.7,329.6 L407.7,330.0 L409.7,330.3 L411.8,330.7 L414.0,330.9 L416.9,331.1 L420.0,331.1 L423.2,331.1 L426.5,331.1 L429.8,331.0 L433.0,331.0 L436.3,331.0 L439.8,331.1 L443.2,331.1 L446.6,331.1 L449.8,331.1 L452.9,330.9 L455.1,330.7 L457.2,330.4 L459.2,330.1 L461.2,329.8 L463.2,329.5 L465.4,329.2 L468.2,328.9 L471.2,328.6 L474.2,328.4 L477.2,328.2 L480.2,328.0 L483.0,327.9 L485.3,328.0 L487.5,328.2 L489.6,328.5 L491.7,328.7 L493.7,328.7 L495.5,328.4 L497.0,327.9 L498.4,327.2 L499.7,326.4 L501.0,325.5 L502.1,324.7 L503.0,323.9 L503.4,323.5 L503.8,323.1 L504.0,322.7 L504.3,322.3 L504.6,321.9 L505.0,321.5 L505.7,320.9 L506.4,320.3 L507.3,319.6 L508.2,319.0 L509.1,318.3 L510.0,317.6 L511.1,316.7 L512.3,315.7 L513.5,314.6 L514.7,313.6 L516.1,312.5 L517.6,311.5 L520.1,310.1 L523.1,308.8 L526.3,307.5 L529.5,306.2 L532.5,304.6 L535.1,302.7 L537.1,300.5 L538.9,298.0 L540.5,295.4 L542.0,292.6 L543.5,290.0 L545.2,287.7 L546.8,285.8 L548.4,284.0 L550.0,282.3 L551.7,280.7 L553.4,279.2 L555.2,277.7 L557.1,276.3 L559.2,275.0 L561.3,273.9 L563.5,272.7 L565.6,271.7 L567.7,270.7 L569.6,269.9 L571.5,269.3 L573.4,268.7 L575.2,268.1 L577.1,267.4 L579.0,266.4 L579.0,266.4"/>
<path d="M606.6,243.4 L606.6,243.4 L608.8,241.8 L611.0,240.2 L613.2,238.7 L615.5,237.2 L617.9,235.8 L620.4,234.5 L623.5,233.2 L626.7,231.9 L630.1,230.8 L633.5,229.8 L637.0,228.8 L640.4,228.0 L643.7,227.3 L647.1,226.6 L650.4,226.1 L653.8,225.6 L657.1,225.3 L660.5,225.0 L663.9,224.9 L667.4,224.9 L671.0,225.0 L674.4,225.2 L677.6,225.4 L680.5,225.5 L682.3,225.6 L683.9,225.7 L685.5,225.7 L686.9,225.8 L688.4,226.0 L690.0,226.1 L691.6,226.3 L693.2,226.5 L694.8,226.7 L696.4,226.9 L698.1,227.2 L700.0,227.5 L702.9,227.9 L706.1,228.4 L709.4,229.0 L712.9,229.5 L716.5,230.2 L720.0,230.8 L724.0,231.6 L728.1,232.5 L732.3,233.4 L736.6,234.4 L740.9,235.3 L745.2,236.2 L749.9,237.1 L754.7,238.0 L759.6,238.8 L764.4,239.7 L769.3,240.6 L774.0,241.7 L779.1,243.1 L784.9,244.7 L790.7,246.5 L795.7,248.0 L799.3,249.2 L800.6,249.6"/>
<path d="M82.5,490.2 L83.6,490.4 L86.6,491.1 L90.9,492.1 L95.9,493.2 L100.9,494.3 L105.4,495.4 L110.2,496.6 L115.4,498.0 L120.7,499.4 L125.8,500.8 L130.6,502.0 L134.7,503.1 L135.7,503.3"/>
<path d="M157.9,508.6 L158.3,508.7 L160.9,509.4 L163.6,510.2 L166.3,511.1 L169.2,511.9 L172.2,512.6 L175.4,513.2 L180.2,513.7 L185.4,513.9 L190.9,513.9 L196.5,513.9 L202.0,513.9 L207.2,514.0 L211.6,514.2 L216.0,514.5 L220.3,514.8 L224.5,515.1 L228.6,515.5 L232.6,515.8 L236.1,516.1 L239.5,516.3 L242.8,516.5 L246.1,516.8 L249.4,517.2 L252.9,517.8 L257.1,518.8 L261.6,520.0 L266.1,521.5 L270.5,522.9 L274.7,524.3 L278.4,525.4 L280.6,526.0 L282.6,526.6 L284.5,527.1 L286.4,527.6 L288.2,528.0 L290.0,528.5 L291.7,528.9 L293.3,529.4 L294.9,529.8 L296.5,530.2 L298.2,530.6 L300.0,531.0 L302.3,531.5 L304.7,532.0 L307.2,532.6 L309.9,533.1 L312.6,533.7 L315.4,534.3 L319.3,535.2 L323.6,536.1 L328.1,537.1 L332.6,538.1 L336.9,539.0 L340.9,539.9 L343.9,540.5 L346.8,541.1 L349.5,541.7 L352.2,542.3 L354.9,542.7 L357.4,543.2 L357.4,543.2"/>
<path d="M381.6,546.3 L381.6,546.3 L385.0,546.7 L388.7,547.1 L392.5,547.5 L396.5,547.9 L400.4,548.4 L404.4,548.8 L408.6,549.3 L412.8,549.8 L417.1,550.3 L421.4,550.8 L425.6,551.3 L429.9,551.9 L434.2,552.5 L438.5,553.3 L442.8,554.0 L447.0,554.7 L451.2,555.3 L455.3,555.7 L458.8,555.9 L462.3,556.0 L465.6,556.0 L469.0,555.9 L472.3,555.9 L475.7,556.0 L479.1,556.2 L482.6,556.4 L486.1,556.7 L489.5,557.0 L492.8,557.2 L496.0,557.2 L498.4,557.1 L500.7,557.0 L502.9,556.8 L505.2,556.5 L507.5,556.3 L510.0,556.0 L513.7,555.7 L517.9,555.4 L522.3,555.1 L526.5,554.8 L530.2,554.3 L533.1,553.6 L534.2,553.2 L535.0,552.8 L535.7,552.4 L536.4,551.9 L537.2,551.4 L538.1,550.8 L539.9,549.8 L541.8,548.6 L543.9,547.4 L546.2,546.0 L548.5,544.6 L550.9,543.2 L554.3,541.2 L558.0,539.0 L562.0,536.7 L565.8,534.4 L569.4,532.1 L572.5,529.9 L572.5,529.9"/>
<path d="M591.6,512.7 L591.6,512.7 L594.0,510.7 L596.6,508.6 L599.3,506.5 L602.0,504.3 L604.5,502.1 L606.8,499.9 L608.5,498.0 L610.1,496.0 L611.7,494.0 L613.1,492.1 L614.4,490.4 L615.7,489.0 L616.4,488.3 L617.0,487.7 L617.6,487.1 L618.2,486.6 L618.8,486.2 L619.5,486.0 L620.3,486.0 L621.0,486.2 L621.8,486.5 L622.7,486.9 L623.6,487.1 L624.6,487.2 L626.7,486.9 L629.1,486.2 L631.7,485.2 L634.4,484.1 L637.2,483.0 L639.9,482.1 L642.8,481.2 L645.7,480.3 L648.6,479.4 L651.6,478.6 L654.6,477.8 L657.7,477.0 L661.0,476.2 L664.3,475.5 L667.7,474.9 L671.1,474.2 L674.5,473.7 L678.0,473.2 L681.6,472.8 L685.3,472.5 L689.0,472.3 L692.7,472.0 L696.4,471.8 L700.0,471.5 L703.4,471.1 L706.7,470.8 L710.1,470.4 L713.4,470.0 L716.7,469.6 L720.0,469.2 L723.2,468.9 L726.4,468.6 L729.5,468.3 L732.8,468.0 L736.2,467.7 L739.9,467.4 L745.9,466.8 L752.6,466.2 L759.7,465.5 L766.9,464.7 L773.6,464.0 L779.7,463.4 L780.5,463.3"/>
<path d="M82.5,602.1 L83.7,602.4 L86.7,603.0 L91.0,604.0 L96.0,605.1 L101.0,606.3 L105.4,607.3 L109.6,608.3 L113.9,609.4 L118.2,610.5 L122.6,611.7 L126.8,612.7 L130.9,613.7 L134.4,614.5 L137.9,615.2 L141.3,615.9 L144.6,616.6 L147.9,617.3 L151.2,618.0 L154.3,618.8 L157.3,619.6 L160.4,620.5 L163.3,621.3 L166.2,622.1 L169.0,622.6 L171.2,622.9 L173.2,623.1 L175.2,623.2 L177.2,623.3 L179.4,623.3 L181.7,623.4 L185.4,623.5 L189.5,623.7 L193.9,623.8 L198.4,623.9 L202.9,624.0 L207.2,624.1 L211.5,624.2 L215.8,624.3 L220.2,624.4 L224.5,624.4 L228.6,624.5 L232.6,624.6 L235.7,624.6 L238.7,624.6 L241.6,624.7 L244.5,624.7 L247.4,624.8 L250.4,625.1 L253.7,625.5 L257.1,626.1 L260.6,626.8 L264.0,627.6 L267.4,628.3 L270.7,629.0 L273.8,629.6 L276.9,630.3 L279.9,630.9 L282.9,631.6 L285.8,632.2 L288.5,632.8 L290.6,633.2 L292.6,633.7 L294.5,634.1 L296.4,634.5 L298.2,634.9 L300.0,635.3 L301.4,635.6 L302.6,635.9 L303.9,636.2 L305.1,636.5 L306.4,636.8 L307.8,637.1 L310.1,637.7 L312.9,638.3 L315.8,639.0 L318.4,639.7 L320.3,640.1 L321.0,640.3" stroke-dasharray="9.5,10.3"/>
</g>
<line x1="800.6" y1="50.6" x2="800.6" y2="640.9" stroke="#111" stroke-width="1.1"/>
<g font-family="'Liberation Sans', sans-serif" font-size="14px" fill="#111" text-anchor="middle">
<text transform="translate(152.7,145.7) rotate(3)" y="5">32.6</text>
<text transform="translate(147.0,177.3) rotate(-3)" y="5">33</text>
<text transform="translate(149.5,200.6) rotate(-7)" y="5">33.4</text>
<text transform="translate(388.1,151.1) rotate(3)" y="5">32.6</text>
<text transform="translate(373.2,172.0) rotate(8)" y="5">33</text>
<text transform="translate(387.7,197.7) rotate(9)" y="5">33.4</text>
<text transform="translate(619.0,131.9) rotate(0)" y="5">32.6</text>
<text transform="translate(594.2,157.5) rotate(-31)" y="5">33</text>
<text transform="translate(627.6,173.3) rotate(-6)" y="5">33.4</text>
<text transform="translate(152.2,306.4) rotate(-18)" y="5">33.8</text>
<text transform="translate(383.5,326.4) rotate(7)" y="5">33.8</text>
<text transform="translate(592.6,253.9) rotate(-39)" y="5">33.8</text>
<text transform="translate(146.1,505.2) rotate(14)" y="5">34</text>
<text transform="translate(368.8,544.5) rotate(8)" y="5">34</text>
<text transform="translate(581.9,520.3) rotate(-40)" y="5">34</text>
<text transform="translate(790.3,461.2) rotate(-6)" y="5">34</text>
</g>
<path d="M840.5,640.8 L841.2,520.0 L841.6,390.0 L842.0,348.8 L842.2,319.2 L842.6,279.6 L843.2,260.0 L844.0,242.6 L845.2,230.7 L847.0,218.8 L848.0,203.0 L848.7,187.2 L850.1,175.3 L851.5,161.5 L853.1,152.6 L855.1,149.3 L857.0,149.3 L859.0,151.6 L860.3,145.7 L861.3,140.4 L862.2,138.9 L863.4,138.7 L864.7,140.2 L865.8,149.7 L866.9,169.4 L867.7,195.1 L868.9,230.0 L868.9,640.8 Z" fill="#000"/>
<g stroke="#000" stroke-width="2" fill="none" stroke-linecap="butt">
<path d="M81.40,50.60 H870.00"/>
<path d="M81.40,640.90 H870.00"/>
<path d="M82.40,50.60 V640.90"/>
<path d="M869.00,50.60 V640.90"/>
</g>
<g stroke="#000" stroke-width="2.1" fill="none" stroke-linecap="round">
<path d="M75.10,50.60 H82.40"/>
<path d="M869.00,50.60 H876.60"/>
<path d="M78.00,109.63 H82.40"/>
<path d="M869.00,109.63 H873.60"/>
<path d="M75.10,168.66 H82.40"/>
<path d="M869.00,168.66 H876.60"/>
<path d="M78.00,227.69 H82.40"/>
<path d="M869.00,227.69 H873.60"/>
<path d="M75.10,286.72 H82.40"/>
<path d="M869.00,286.72 H876.60"/>
<path d="M78.00,345.75 H82.40"/>
<path d="M869.00,345.75 H873.60"/>
<path d="M75.10,404.78 H82.40"/>
<path d="M869.00,404.78 H876.60"/>
<path d="M78.00,463.81 H82.40"/>
<path d="M869.00,463.81 H873.60"/>
<path d="M75.10,522.84 H82.40"/>
<path d="M869.00,522.84 H876.60"/>
<path d="M78.00,581.87 H82.40"/>
<path d="M869.00,581.87 H873.60"/>
<path d="M75.10,640.90 H82.40"/>
<path d="M869.00,640.90 H876.60"/>
</g>
<g stroke="#000" stroke-width="2.4" fill="none" stroke-linecap="round">
<path d="M869.10,43.50 V50.60"/>
<path d="M869.10,640.90 V648.30"/>
<path d="M813.55,46.10 V50.60"/>
<path d="M813.55,640.90 V645.70"/>
<path d="M757.99,43.50 V50.60"/>
<path d="M757.99,640.90 V648.30"/>
<path d="M702.44,46.10 V50.60"/>
<path d="M702.44,640.90 V645.70"/>
<path d="M646.88,43.50 V50.60"/>
<path d="M646.88,640.90 V648.30"/>
<path d="M591.33,46.10 V50.60"/>
<path d="M591.33,640.90 V645.70"/>
<path d="M535.78,43.50 V50.60"/>
<path d="M535.78,640.90 V648.30"/>
<path d="M480.22,46.10 V50.60"/>
<path d="M480.22,640.90 V645.70"/>
<path d="M424.67,43.50 V50.60"/>
<path d="M424.67,640.90 V648.30"/>
<path d="M369.11,46.10 V50.60"/>
<path d="M369.11,640.90 V645.70"/>
<path d="M313.56,43.50 V50.60"/>
<path d="M313.56,640.90 V648.30"/>
<path d="M258.01,46.10 V50.60"/>
<path d="M258.01,640.90 V645.70"/>
<path d="M202.45,43.50 V50.60"/>
<path d="M202.45,640.90 V648.30"/>
<path d="M146.90,46.10 V50.60"/>
<path d="M146.90,640.90 V645.70"/>
<path d="M91.34,43.50 V50.60"/>
<path d="M91.34,640.90 V648.30"/>
</g>
<g fill="#000">
<path d="M78.2,30.2 h9.6 l-4.8,7.2 Z"/>
<path d="M103.6,30.2 h9.6 l-4.8,7.2 Z"/>
<path d="M130.8,30.2 h9.6 l-4.8,7.2 Z"/>
<path d="M170.0,30.2 h9.6 l-4.8,7.2 Z"/>
<path d="M209.6,30.2 h9.6 l-4.8,7.2 Z"/>
<path d="M249.9,30.2 h9.6 l-4.8,7.2 Z"/>
<path d="M290.2,30.2 h9.6 l-4.8,7.2 Z"/>
<path d="M330.8,30.2 h9.6 l-4.8,7.2 Z"/>
<path d="M370.7,30.2 h9.6 l-4.8,7.2 Z"/>
<path d="M411.0,30.2 h9.6 l-4.8,7.2 Z"/>
<path d="M450.9,30.2 h9.6 l-4.8,7.2 Z"/>
<path d="M490.7,30.2 h9.6 l-4.8,7.2 Z"/>
<path d="M531.6,30.2 h9.6 l-4.8,7.2 Z"/>
<path d="M571.7,30.2 h9.6 l-4.8,7.2 Z"/>
<path d="M612.8,30.2 h9.6 l-4.8,7.2 Z"/>
<path d="M652.8,30.2 h9.6 l-4.8,7.2 Z"/>
<path d="M673.0,30.2 h9.6 l-4.8,7.2 Z"/>
<path d="M693.8,30.2 h9.6 l-4.8,7.2 Z"/>
<path d="M713.6,30.2 h9.6 l-4.8,7.2 Z"/>
<path d="M734.7,30.2 h9.6 l-4.8,7.2 Z"/>
<path d="M754.5,30.2 h9.6 l-4.8,7.2 Z"/>
<path d="M774.8,30.2 h9.6 l-4.8,7.2 Z"/>
<path d="M795.8,30.2 h9.6 l-4.8,7.2 Z"/>
<path d="M815.7,30.2 h9.6 l-4.8,7.2 Z"/>
<path d="M829.7,30.2 h9.6 l-4.8,7.2 Z"/>
<path d="M843.7,30.2 h9.6 l-4.8,7.2 Z"/>
<path d="M863.8,30.2 h9.6 l-4.8,7.2 Z"/>
</g>
<g font-family="'Liberation Sans', sans-serif" fill="#000">
<text x="474.3" y="24.0" font-size="24.9px" text-anchor="middle">Salinity along Line-P - Feb. 2010</text>
<text x="475.3" y="702.7" font-size="22.2px" text-anchor="middle">Distance along Line-P (km)</text>
<text transform="translate(23.2,345.0) rotate(-90)" font-size="25px" text-anchor="middle">Pressure (dbar)</text>
<text x="854.9" y="686.0" font-size="11.2px" text-anchor="end">Last update: 8th Mar. 2010</text>
<g font-size="19.1px">
<text x="72.3" y="57.1" text-anchor="end">0</text>
<text x="72.3" y="175.2" text-anchor="end">100</text>
<text x="72.3" y="293.2" text-anchor="end">200</text>
<text x="72.3" y="411.3" text-anchor="end">300</text>
<text x="72.3" y="529.3" text-anchor="end">400</text>
<text x="72.3" y="647.4" text-anchor="end">500</text>
<text x="868.6" y="668.0" text-anchor="middle">0</text>
<text x="757.5" y="668.0" text-anchor="middle">200</text>
<text x="646.4" y="668.0" text-anchor="middle">400</text>
<text x="535.3" y="668.0" text-anchor="middle">600</text>
<text x="424.2" y="668.0" text-anchor="middle">800</text>
<text x="313.1" y="668.0" text-anchor="middle">1000</text>
<text x="202.0" y="668.0" text-anchor="middle">1200</text>
<text x="90.8" y="668.0" text-anchor="middle">1400</text>
</g></g>
</svg>
</body>
</html>
